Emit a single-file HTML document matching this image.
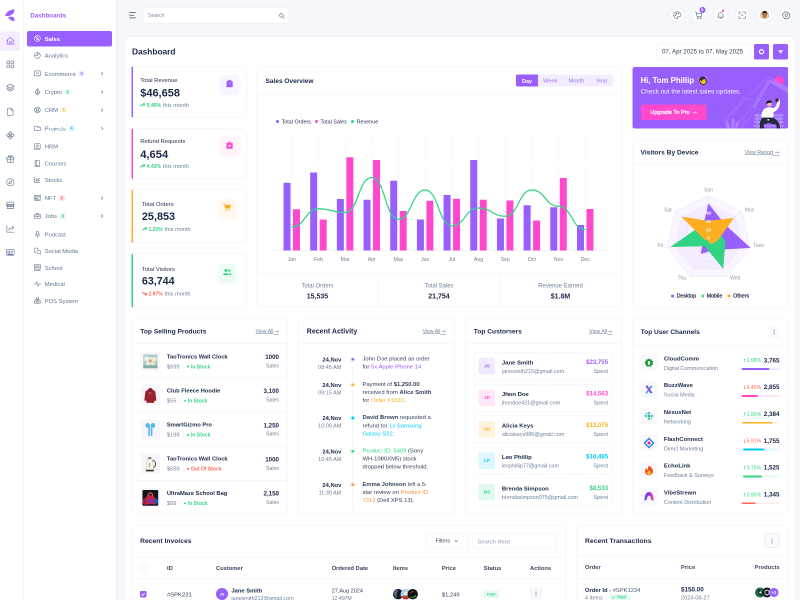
<!DOCTYPE html>
<html lang="en"><head><meta charset="utf-8"><title>Dashboard</title>
<style>
html,body{margin:0;padding:0;}
html{width:800px;height:600px;overflow:hidden;background:#f6f7fb;}
body{width:1600px;height:1200px;position:relative;overflow:hidden;transform:scale(.5) translateZ(0);transform-origin:0 0;will-change:transform;
font-family:"Liberation Sans",sans-serif;color:#1c2848;background:#f6f7fb;}
div,svg{box-sizing:border-box;}
b{font-weight:700;}
</style></head><body>
<div style="position:absolute;left:250px;top:74px;width:1340px;height:1200px;background:#fff;border-radius:10px 10px 0 0;box-shadow:0 0 2px rgba(120,130,160,.18);"></div>
<div style="position:absolute;left:0px;top:0px;width:47px;height:1200px;background:#fff;"></div>
<div style="position:absolute;left:46.5px;top:0px;width:1px;height:1200px;background:#e9edf4;"></div>
<svg style="position:absolute;left:9px;top:17px;" width="22" height="27" viewBox="0 0 11 13.5"><path d="M9.7 0.9 C5.6 1.2 1.4 3.6 0.7 7.3 C3.2 8.2 7.2 7 9 4.6 C9.8 3.5 10 2.2 9.7 0.9 Z" fill="#985ffd"/><path d="M3.6 8.9 C5.4 7.7 8.2 7.7 9.6 9.5 C10 10.6 10 11.8 9.7 12.8 C7.4 12.5 4.8 11.2 3.6 8.9 Z" fill="#985ffd"/></svg>
<div style="position:absolute;left:0px;top:62.6px;width:40px;height:39.2px;background:#f3edff;border-radius:5px;"></div>
<svg style="position:absolute;left:10.6px;top:72.4px;" width="19.2" height="19.2" viewBox="0 0 24 24"><g fill="none" stroke="#985ffd" stroke-width="1.6" stroke-linecap="round" stroke-linejoin="round"><path d="M2.5 12 L12 3.5 L21.5 12"/><path d="M5 10.5 V20.5 H19 V10.5"/><path d="M9.5 20.5 V14.5 H14.5 V20.5"/><path d="M3 20.6 H21"/></g></svg>
<svg style="position:absolute;left:10.6px;top:119.4px;" width="19.2" height="19.2" viewBox="0 0 24 24"><g fill="none" stroke="#6a7b96" stroke-width="1.6" stroke-linecap="round" stroke-linejoin="round"><rect x="3.5" y="3.5" width="7" height="7" rx="2"/><rect x="13.5" y="3.5" width="7" height="7" rx="2"/><rect x="3.5" y="13.5" width="7" height="7" rx="2"/><rect x="13.5" y="13.5" width="7" height="7" rx="2"/></g></svg>
<svg style="position:absolute;left:10.6px;top:166.4px;" width="19.2" height="19.2" viewBox="0 0 24 24"><g fill="none" stroke="#6a7b96" stroke-width="1.6" stroke-linecap="round" stroke-linejoin="round"><path d="M12 3 L21 8 L12 13 L3 8 Z"/><path d="M3 12 L12 17 L21 12"/><path d="M3 16 L12 21 L21 16"/></g></svg>
<svg style="position:absolute;left:10.6px;top:214.2px;" width="19.2" height="19.2" viewBox="0 0 24 24"><g fill="none" stroke="#6a7b96" stroke-width="1.6" stroke-linecap="round" stroke-linejoin="round"><path d="M6 3 H14 L19 8 V19 a2 2 0 0 1 -2 2 H7 a2 2 0 0 1 -2 -2 V5 a2 2 0 0 1 1 -2 Z"/><path d="M14 3 V8 H19"/></g></svg>
<svg style="position:absolute;left:10.6px;top:260.8px;" width="19.2" height="19.2" viewBox="0 0 24 24"><g fill="none" stroke="#6a7b96" stroke-width="1.6" stroke-linecap="round" stroke-linejoin="round"><path d="M12 2.5 L16 6.5 L12 10.5 L8 6.5 Z"/><path d="M12 13.5 L16 17.5 L12 21.5 L8 17.5 Z"/><path d="M6.5 8 L10.5 12 L6.5 16 L2.5 12 Z"/><path d="M17.5 8 L21.5 12 L17.5 16 L13.5 12 Z"/></g></svg>
<svg style="position:absolute;left:10.6px;top:307.6px;" width="19.2" height="19.2" viewBox="0 0 24 24"><g fill="none" stroke="#6a7b96" stroke-width="1.6" stroke-linecap="round" stroke-linejoin="round"><rect x="3" y="8" width="18" height="5"/><path d="M5 13 V21 H19 V13"/><path d="M12 8 V21"/><path d="M12 8 C9 8 7 6.5 7.5 4.5 C8 3 10.5 3 12 8 C13.5 3 16 3 16.5 4.5 C17 6.5 15 8 12 8"/></g></svg>
<svg style="position:absolute;left:10.6px;top:354.6px;" width="19.2" height="19.2" viewBox="0 0 24 24"><g fill="none" stroke="#6a7b96" stroke-width="1.6" stroke-linecap="round" stroke-linejoin="round"><circle cx="12" cy="12" r="9"/><path d="M15.8 8.2 L13.8 13.8 L8.2 15.8 L10.2 10.2 Z"/></g></svg>
<svg style="position:absolute;left:10.6px;top:401.4px;" width="19.2" height="19.2" viewBox="0 0 24 24"><g fill="none" stroke="#6a7b96" stroke-width="1.6" stroke-linecap="round" stroke-linejoin="round"><path d="M4 4 H20 L21.5 9.5 H2.5 Z"/><path d="M4 9.5 V20 H20 V9.5"/><path d="M4 15 H20"/><path d="M2.5 9.5 a3 3 0 0 0 6 0 a3 3 0 0 0 6.5 0 a3 3 0 0 0 6.5 0"/></g></svg>
<svg style="position:absolute;left:10.6px;top:448.4px;" width="19.2" height="19.2" viewBox="0 0 24 24"><g fill="none" stroke="#6a7b96" stroke-width="1.6" stroke-linecap="round" stroke-linejoin="round"><path d="M3.5 3.5 V20.5 H20.5"/><path d="M7 15 L11 10.5 L14.5 13.5 L20 7"/><path d="M16 7 H20 V11"/></g></svg>
<svg style="position:absolute;left:10.6px;top:495.2px;" width="19.2" height="19.2" viewBox="0 0 24 24"><g fill="none" stroke="#6a7b96" stroke-width="1.6" stroke-linecap="round" stroke-linejoin="round"><rect x="2.5" y="4.5" width="19" height="15" rx="1.5"/><path d="M6 9 H10 V14 H6 Z"/><path d="M13 9.5 H18"/><path d="M13 13.5 H18"/><path d="M6 16.8 H18"/></g></svg>
<div style="position:absolute;left:47.5px;top:0px;width:184.5px;height:1200px;background:#fff;"></div>
<div style="position:absolute;left:232px;top:0px;width:4.4px;height:1200px;background:linear-gradient(90deg,rgba(225,229,240,.55),rgba(225,229,240,0));"></div>
<div style="position:absolute;left:60.8px;top:23.15px;white-space:nowrap;font-size:12.39px;line-height:16.11px;color:#985ffd;font-weight:700;">Dashboards</div>
<div style="position:absolute;left:54px;top:62.4px;width:170px;height:30.2px;background:#985ffd;border-radius:4px;"></div>
<svg style="position:absolute;left:67px;top:69.4px;" width="15.6" height="15.6" viewBox="0 0 24 24"><g fill="none" stroke="#fff" stroke-width="1.75" stroke-linecap="round" stroke-linejoin="round"><circle cx="12" cy="12" r="9"/><path d="M5.5 5.5 L18.5 18.5"/><path d="M15 8.5 C13 6.8 9 7.4 9 10 C9 12.6 15 11.6 15 14.4 C15 16.8 11 17.2 9 15.5"/></g></svg>
<div style="position:absolute;left:89.4px;top:69.59px;white-space:nowrap;font-size:11.7px;line-height:15.21px;color:#fff;font-weight:700;">Sales</div>
<svg style="position:absolute;left:67px;top:103px;" width="15.6" height="15.6" viewBox="0 0 24 24"><g fill="none" stroke="#61748f" stroke-width="1.75" stroke-linecap="round" stroke-linejoin="round"><circle cx="12" cy="12" r="9"/><path d="M12 3 V12 H3"/><path d="M12 12 L18 6"/></g></svg>
<div style="position:absolute;left:89.4px;top:103.19px;white-space:nowrap;font-size:11.7px;line-height:15.21px;color:#61748f;font-weight:400;">Analytics</div>
<svg style="position:absolute;left:67px;top:139.4px;" width="15.6" height="15.6" viewBox="0 0 24 24"><g fill="none" stroke="#61748f" stroke-width="1.75" stroke-linecap="round" stroke-linejoin="round"><rect x="3" y="4.5" width="18" height="15" rx="1.5"/><path d="M8 9 C8 14 16 14 16 9"/></g></svg>
<div style="position:absolute;left:89.4px;top:139.59px;white-space:nowrap;font-size:11.7px;line-height:15.21px;color:#61748f;font-weight:400;">Ecommerce</div>
<div style="position:absolute;left:157.01px;top:141.2px;width:12.4px;height:11.8px;background:#f1eaff;border-radius:2.4px;"></div>
<div style="position:absolute;left:163.21px;top:141.74px;white-space:nowrap;font-size:8.4px;line-height:10.92px;color:#985ffd;font-weight:700;transform:translateX(-50%);">3</div>
<svg style="position:absolute;left:200.8px;top:143.2px;" width="6" height="8" viewBox="0 0 3 4"><path d="M0.8 0.6 L2.4 2 L0.8 3.4" fill="none" stroke="#61748f" stroke-width="0.55" stroke-linecap="round" stroke-linejoin="round"/></svg>
<svg style="position:absolute;left:67px;top:176.2px;" width="15.6" height="15.6" viewBox="0 0 24 24"><g fill="none" stroke="#61748f" stroke-width="1.75" stroke-linecap="round" stroke-linejoin="round"><path d="M12 2.5 L19.5 12.5 L12 16.5 L4.5 12.5 Z"/><path d="M5.5 16 L12 21.5 L18.5 16"/><path d="M12 2.5 V16.5"/></g></svg>
<div style="position:absolute;left:89.4px;top:176.4px;white-space:nowrap;font-size:11.7px;line-height:15.21px;color:#61748f;font-weight:400;">Crypto</div>
<div style="position:absolute;left:129.06px;top:178px;width:12.4px;height:11.8px;background:#e4f9ef;border-radius:2.4px;"></div>
<div style="position:absolute;left:135.26px;top:178.54px;white-space:nowrap;font-size:8.4px;line-height:10.92px;color:#32d484;font-weight:700;transform:translateX(-50%);">6</div>
<svg style="position:absolute;left:200.8px;top:180px;" width="6" height="8" viewBox="0 0 3 4"><path d="M0.8 0.6 L2.4 2 L0.8 3.4" fill="none" stroke="#61748f" stroke-width="0.55" stroke-linecap="round" stroke-linejoin="round"/></svg>
<svg style="position:absolute;left:67px;top:212.2px;" width="15.6" height="15.6" viewBox="0 0 24 24"><g fill="none" stroke="#61748f" stroke-width="1.75" stroke-linecap="round" stroke-linejoin="round"><circle cx="12" cy="12" r="9"/><circle cx="12" cy="12" r="3.6"/><path d="M5.6 5.6 L9.4 9.4 M14.6 14.6 L18.4 18.4 M18.4 5.6 L14.6 9.4 M9.4 14.6 L5.6 18.4"/></g></svg>
<div style="position:absolute;left:89.4px;top:212.4px;white-space:nowrap;font-size:11.7px;line-height:15.21px;color:#61748f;font-weight:400;">CRM</div>
<div style="position:absolute;left:121.24px;top:214px;width:12.4px;height:11.8px;background:#fff4df;border-radius:2.4px;"></div>
<div style="position:absolute;left:127.44px;top:214.54px;white-space:nowrap;font-size:8.4px;line-height:10.92px;color:#fdaf22;font-weight:700;transform:translateX(-50%);">5</div>
<svg style="position:absolute;left:200.8px;top:216px;" width="6" height="8" viewBox="0 0 3 4"><path d="M0.8 0.6 L2.4 2 L0.8 3.4" fill="none" stroke="#61748f" stroke-width="0.55" stroke-linecap="round" stroke-linejoin="round"/></svg>
<svg style="position:absolute;left:67px;top:249px;" width="15.6" height="15.6" viewBox="0 0 24 24"><g fill="none" stroke="#61748f" stroke-width="1.75" stroke-linecap="round" stroke-linejoin="round"><path d="M3 6.5 a1.5 1.5 0 0 1 1.5 -1.5 H9.5 L12 7.5 H19.5 a1.5 1.5 0 0 1 1.5 1.5 V17.5 a1.5 1.5 0 0 1 -1.5 1.5 H4.5 a1.5 1.5 0 0 1 -1.5 -1.5 Z"/></g></svg>
<div style="position:absolute;left:89.4px;top:249.2px;white-space:nowrap;font-size:11.7px;line-height:15.21px;color:#61748f;font-weight:400;">Projects</div>
<div style="position:absolute;left:136.86px;top:250.8px;width:12.4px;height:11.8px;background:#e0f8ff;border-radius:2.4px;"></div>
<div style="position:absolute;left:143.06px;top:251.34px;white-space:nowrap;font-size:8.4px;line-height:10.92px;color:#00c9ff;font-weight:700;transform:translateX(-50%);">4</div>
<svg style="position:absolute;left:200.8px;top:252.8px;" width="6" height="8" viewBox="0 0 3 4"><path d="M0.8 0.6 L2.4 2 L0.8 3.4" fill="none" stroke="#61748f" stroke-width="0.55" stroke-linecap="round" stroke-linejoin="round"/></svg>
<svg style="position:absolute;left:67px;top:285.2px;" width="15.6" height="15.6" viewBox="0 0 24 24"><g fill="none" stroke="#61748f" stroke-width="1.75" stroke-linecap="round" stroke-linejoin="round"><rect x="3.5" y="3.5" width="17" height="17" rx="1.5"/><circle cx="12" cy="10" r="3"/><path d="M6.5 20 C7 15.5 17 15.5 17.5 20"/></g></svg>
<div style="position:absolute;left:89.4px;top:285.39px;white-space:nowrap;font-size:11.7px;line-height:15.21px;color:#61748f;font-weight:400;">HRM</div>
<svg style="position:absolute;left:67px;top:318.6px;" width="15.6" height="15.6" viewBox="0 0 24 24"><g fill="none" stroke="#61748f" stroke-width="1.75" stroke-linecap="round" stroke-linejoin="round"><rect x="5" y="3" width="14" height="15.5" rx="1.5"/><path d="M5 18.5 V21 H19"/><path d="M8.5 3 V18"/></g></svg>
<div style="position:absolute;left:89.4px;top:318.79px;white-space:nowrap;font-size:11.7px;line-height:15.21px;color:#61748f;font-weight:400;">Courses</div>
<svg style="position:absolute;left:67px;top:352px;" width="15.6" height="15.6" viewBox="0 0 24 24"><g fill="none" stroke="#61748f" stroke-width="1.75" stroke-linecap="round" stroke-linejoin="round"><path d="M3.5 3.5 V20.5 H20.5"/><path d="M6.5 12 L10 8.5 L13.5 11.5 L19.5 6.5"/><path d="M7 16 L10 13.5 L13.5 16.5 L19 13"/></g></svg>
<div style="position:absolute;left:89.4px;top:352.19px;white-space:nowrap;font-size:11.7px;line-height:15.21px;color:#61748f;font-weight:400;">Stocks</div>
<svg style="position:absolute;left:67px;top:388.2px;" width="15.6" height="15.6" viewBox="0 0 24 24"><g fill="none" stroke="#61748f" stroke-width="1.75" stroke-linecap="round" stroke-linejoin="round"><rect x="2.5" y="4.5" width="19" height="15" rx="1.5"/><rect x="5.5" y="8" width="6" height="6"/><path d="M14.5 8.5 H18.5 M14.5 12 H18.5 M5.5 16.5 H18.5"/></g></svg>
<div style="position:absolute;left:89.4px;top:388.39px;white-space:nowrap;font-size:11.7px;line-height:15.21px;color:#61748f;font-weight:400;">NFT</div>
<div style="position:absolute;left:117.34px;top:390px;width:12.4px;height:11.8px;background:#ffe8e5;border-radius:2.4px;"></div>
<div style="position:absolute;left:123.54px;top:390.54px;white-space:nowrap;font-size:8.4px;line-height:10.92px;color:#ff6757;font-weight:700;transform:translateX(-50%);">6</div>
<svg style="position:absolute;left:200.8px;top:392px;" width="6" height="8" viewBox="0 0 3 4"><path d="M0.8 0.6 L2.4 2 L0.8 3.4" fill="none" stroke="#61748f" stroke-width="0.55" stroke-linecap="round" stroke-linejoin="round"/></svg>
<svg style="position:absolute;left:67px;top:424.2px;" width="15.6" height="15.6" viewBox="0 0 24 24"><g fill="none" stroke="#61748f" stroke-width="1.75" stroke-linecap="round" stroke-linejoin="round"><rect x="3" y="7" width="18" height="13" rx="1.5"/><path d="M8.5 7 V4.5 H15.5 V7"/><path d="M3 12.5 H21"/><path d="M10.5 12.5 V14.5 H13.5 V12.5"/></g></svg>
<div style="position:absolute;left:89.4px;top:424.39px;white-space:nowrap;font-size:11.7px;line-height:15.21px;color:#61748f;font-weight:400;">Jobs</div>
<div style="position:absolute;left:119.31px;top:426px;width:12.4px;height:11.8px;background:#e4f9ef;border-radius:2.4px;"></div>
<div style="position:absolute;left:125.51px;top:426.54px;white-space:nowrap;font-size:8.4px;line-height:10.92px;color:#32d484;font-weight:700;transform:translateX(-50%);">8</div>
<svg style="position:absolute;left:200.8px;top:428px;" width="6" height="8" viewBox="0 0 3 4"><path d="M0.8 0.6 L2.4 2 L0.8 3.4" fill="none" stroke="#61748f" stroke-width="0.55" stroke-linecap="round" stroke-linejoin="round"/></svg>
<svg style="position:absolute;left:67px;top:461px;" width="15.6" height="15.6" viewBox="0 0 24 24"><g fill="none" stroke="#61748f" stroke-width="1.75" stroke-linecap="round" stroke-linejoin="round"><rect x="9" y="2.5" width="6" height="11.5" rx="3"/><path d="M5.5 11 a6.5 6.5 0 0 0 13 0"/><path d="M12 17.5 V21.5"/></g></svg>
<div style="position:absolute;left:89.4px;top:461.19px;white-space:nowrap;font-size:11.7px;line-height:15.21px;color:#61748f;font-weight:400;">Podcast</div>
<svg style="position:absolute;left:67px;top:494.2px;" width="15.6" height="15.6" viewBox="0 0 24 24"><g fill="none" stroke="#61748f" stroke-width="1.75" stroke-linecap="round" stroke-linejoin="round"><path d="M14.5 9 A6 6 0 1 0 4.5 13.5 L3.5 16.5 L7 15.5"/><path d="M20.5 18.5 L21.3 21.3 L18.2 20.3 A5.5 5.5 0 1 1 20.5 18.5 Z"/></g></svg>
<div style="position:absolute;left:89.4px;top:494.39px;white-space:nowrap;font-size:11.7px;line-height:15.21px;color:#61748f;font-weight:400;">Social Media</div>
<svg style="position:absolute;left:67px;top:527.4px;" width="15.6" height="15.6" viewBox="0 0 24 24"><g fill="none" stroke="#61748f" stroke-width="1.75" stroke-linecap="round" stroke-linejoin="round"><rect x="3" y="4" width="18" height="13"/><path d="M2 4 H22"/><path d="M7 17 V21 M17 17 V21"/><rect x="7" y="8" width="10" height="5"/><path d="M2.5 21 H21.5"/></g></svg>
<div style="position:absolute;left:89.4px;top:527.6px;white-space:nowrap;font-size:11.7px;line-height:15.21px;color:#61748f;font-weight:400;">School</div>
<svg style="position:absolute;left:67px;top:560.2px;" width="15.6" height="15.6" viewBox="0 0 24 24"><g fill="none" stroke="#61748f" stroke-width="1.75" stroke-linecap="round" stroke-linejoin="round"><path d="M2 12.5 H7 L10 5.5 L14 19 L17 12.5 H22"/></g></svg>
<div style="position:absolute;left:89.4px;top:560.39px;white-space:nowrap;font-size:11.7px;line-height:15.21px;color:#61748f;font-weight:400;">Medical</div>
<svg style="position:absolute;left:67px;top:593.4px;" width="15.6" height="15.6" viewBox="0 0 24 24"><g fill="none" stroke="#61748f" stroke-width="1.75" stroke-linecap="round" stroke-linejoin="round"><path d="M4 10.5 H20 L21 20.5 H3 Z"/><rect x="8" y="3.5" width="8" height="4.5"/><path d="M12 8 V10.5"/><path d="M7.5 14 H9.5 M11 14 H13 M14.5 14 H16.5 M7.5 17 H9.5 M11 17 H13 M14.5 17 H16.5"/></g></svg>
<div style="position:absolute;left:89.4px;top:593.6px;white-space:nowrap;font-size:11.7px;line-height:15.21px;color:#61748f;font-weight:400;">POS System</div>
<svg style="position:absolute;left:258px;top:23.2px;" width="15" height="15" viewBox="0 0 7.5 7.5"><g stroke="#45526a" stroke-width="0.75" stroke-linecap="round"><path d="M0.6 1 H6.6"/><path d="M0.6 3.7 H4.8"/><path d="M0.6 6.4 H6.6"/></g></svg>
<div style="position:absolute;left:285.6px;top:15.4px;width:292.8px;height:31.6px;background:#fff;border:1.0px solid #e9edf4;border-radius:5px;"></div>
<div style="position:absolute;left:296px;top:24.44px;white-space:nowrap;font-size:10.4px;line-height:13.52px;color:#7d8da6;font-weight:400;">Search</div>
<svg style="position:absolute;left:558.4px;top:25.8px;" width="11.2" height="11.2" viewBox="0 0 6.5 6.5"><g fill="none" stroke="#66758e" stroke-width="0.8" stroke-linecap="round"><circle cx="2.8" cy="2.8" r="2.1"/><path d="M4.4 4.4 L6 6"/></g></svg>
<div style="position:absolute;left:1338.8px;top:14.8px;width:30.4px;height:30.4px;background:#fff;border:1.0px solid #e4e8f1;border-radius:50%;"></div>
<div style="position:absolute;left:1382.8px;top:14.8px;width:30.4px;height:30.4px;background:#fff;border:1.0px solid #e4e8f1;border-radius:50%;"></div>
<div style="position:absolute;left:1426.8px;top:14.8px;width:30.4px;height:30.4px;background:#fff;border:1.0px solid #e4e8f1;border-radius:50%;"></div>
<div style="position:absolute;left:1469.6px;top:14.8px;width:30.4px;height:30.4px;background:#fff;border:1.0px solid #e4e8f1;border-radius:50%;"></div>
<div style="position:absolute;left:1513.6px;top:14.8px;width:30.4px;height:30.4px;background:#fff;border:1.0px solid #e4e8f1;border-radius:50%;"></div>
<div style="position:absolute;left:1557.6px;top:14.8px;width:30.4px;height:30.4px;background:#fff;border:1.0px solid #e4e8f1;border-radius:50%;"></div>
<svg style="position:absolute;left:1344.6px;top:20.6px;" width="18.8" height="18.8" viewBox="0 0 24 24"><g fill="none" stroke="#5d6c89" stroke-width="1.6" stroke-linecap="round" stroke-linejoin="round"><path d="M12 3 a9 9 0 1 0 0 18 c1.8 0 2.2 -1.2 1.4 -2.4 c-1 -1.6 0 -3.1 1.8 -3.1 H18 a3.5 3.5 0 0 0 3.5 -3.5 C21.5 7 17.3 3 12 3 Z"/><circle cx="7.5" cy="12" r="1"/><circle cx="10" cy="7.8" r="1"/><circle cx="15" cy="7.8" r="1"/></g></svg>
<svg style="position:absolute;left:1387.6px;top:20.6px;" width="18.8" height="18.8" viewBox="0 0 24 24"><g fill="none" stroke="#5d6c89" stroke-width="1.6" stroke-linecap="round" stroke-linejoin="round"><path d="M2.5 4 H5.5 L8 15.5 H18.5 L20.5 7.5 H6.5"/><circle cx="9.5" cy="19.5" r="1.4"/><circle cx="17" cy="19.5" r="1.4"/></g></svg>
<svg style="position:absolute;left:1432px;top:20.6px;" width="18.8" height="18.8" viewBox="0 0 24 24"><g fill="none" stroke="#5d6c89" stroke-width="1.6" stroke-linecap="round" stroke-linejoin="round"><path d="M6 17 V11 a6 6 0 0 1 12 0 V17 Z"/><path d="M4 17 H20"/><path d="M10 20.5 H14"/></g></svg>
<svg style="position:absolute;left:1475.4px;top:20.6px;" width="18.8" height="18.8" viewBox="0 0 24 24"><g fill="none" stroke="#5d6c89" stroke-width="1.6" stroke-linecap="round" stroke-linejoin="round"><path d="M4 9 V4 H9 M15 4 H20 V9 M20 15 V20 H15 M9 20 H4 V15"/><rect x="9" y="9" width="6" height="6" fill="#4d5b73" stroke="none" opacity=".35"/></g></svg>
<svg style="position:absolute;left:1563.4px;top:20.6px;" width="18.8" height="18.8" viewBox="0 0 24 24"><g fill="none" stroke="#5d6c89" stroke-width="1.6" stroke-linecap="round" stroke-linejoin="round"><circle cx="12" cy="12" r="3.2"/><path d="M12 2.8 L14 5 L17 4.2 L17.8 7.2 L20.8 8 L20 11 L22 12.5 L20 14.5 L20.6 17.4 L17.6 18 L16.6 21 L13.7 20 L12 21.8 L10 20 L7.2 20.8 L6.3 18 L3.4 17.2 L4.1 14.3 L2 12.2 L4 10.2 L3.3 7.3 L6.2 6.5 L7 3.6 L10 4.5 Z"/></g></svg>
<svg style="position:absolute;left:1519.6px;top:20.8px;" width="18.4" height="18.4" viewBox="0 0 24 24"><defs><clipPath id="avc"><circle cx="12" cy="12" r="12"/></clipPath></defs><g clip-path="url(#avc)"><rect width="24" height="24" fill="#dcc3a6"/><path d="M1 27 C1 20 6 18.6 12 18.6 C18 18.6 23 20 23 27 Z" fill="#efe9e0"/><rect x="8.8" y="13" width="6.4" height="7.4" fill="#a8693f"/><ellipse cx="12" cy="10.8" rx="6" ry="7.2" fill="#b5744a"/><path d="M5.6 9.8 C4.8 3 9.6 1 13 1.4 C17.6 1.8 19.6 5.2 18.4 10.4 C17.4 7.4 15.4 6.2 12.2 6.3 C9 6.4 7 7.4 5.6 9.8 Z" fill="#2a1a13"/></g></svg>
<div style="position:absolute;left:1398.6px;top:14.2px;width:12px;height:12px;background:#985ffd;border-radius:50%;"></div>
<div style="position:absolute;left:1404.7px;top:15.36px;white-space:nowrap;font-size:7.6px;line-height:9.88px;color:#fff;font-weight:700;transform:translateX(-50%);">5</div>
<div style="position:absolute;left:1443.8px;top:19.4px;width:4.6px;height:4.6px;background:#ff49cd;border-radius:50%;"></div>
<div style="position:absolute;left:264px;top:93.17px;white-space:nowrap;font-size:16.66px;line-height:21.65px;color:#1c2848;font-weight:700;">Dashboard</div>
<div style="position:absolute;left:1313.2px;top:87.2px;width:188px;height:32px;background:#fff;border:1.0px solid #e9edf4;border-radius:4px;"></div>
<div style="position:absolute;left:1324px;top:95.37px;white-space:nowrap;font-size:12.35px;line-height:16.05px;color:#36445a;font-weight:400;">07, Apr 2025 to 07, May 2025</div>
<div style="position:absolute;left:1508px;top:88px;width:30.4px;height:30.8px;background:#985ffd;border-radius:3.2px;"></div>
<div style="position:absolute;left:1546px;top:88px;width:30.4px;height:30.8px;background:#985ffd;border-radius:3.2px;"></div>
<svg style="position:absolute;left:1517.2px;top:97.4px;" width="12" height="12" viewBox="0 0 6 6"><path d="M3 0.9 L4.6 2 A2 2 0 1 1 1.4 2 Z" fill="none" stroke="#fff" stroke-width="1.1" stroke-linejoin="round"/></svg>
<svg style="position:absolute;left:1554.8px;top:98.6px;" width="12.8" height="10" viewBox="0 0 6.4 5"><path d="M0.6 0.8 H5.8 L3.2 4.2 Z" fill="#fff" opacity=".85"/></svg>
<div style="position:absolute;left:263.2px;top:133px;width:229.6px;height:102px;background:#fff;border:1.0px solid #edf1f7;border-radius:5px;box-sizing:border-box;"></div>
<div style="position:absolute;left:263.2px;top:133px;width:3.2px;height:102px;background:#985ffd;border-radius:4px 0 0 4px;"></div>
<div style="position:absolute;left:280.4px;top:152.42px;white-space:nowrap;font-size:11.66px;line-height:15.16px;color:#27324f;font-weight:400;">Total Revenue</div>
<div style="position:absolute;left:280.4px;top:171.68px;white-space:nowrap;font-size:22.02px;line-height:28.63px;color:#1c2848;font-weight:700;">$46,658</div>
<svg style="position:absolute;left:280.4px;top:205.6px;" width="10" height="8" viewBox="0 0 5 4"><path d="M0.4 3.2 L2 1.6 L2.8 2.4 L4.2 1" fill="none" stroke="#32d484" stroke-width="0.95" stroke-linejoin="round" stroke-linecap="round"/><path d="M3.1 0.7 H4.5 V2.1" fill="none" stroke="#32d484" stroke-width="0.95" stroke-linecap="round"/></svg>
<div style="position:absolute;left:293.6px;top:203.5px;white-space:nowrap;font-size:10px;line-height:13px;color:#32d484;font-weight:700;">0.45%</div>
<div style="position:absolute;left:325.95px;top:202.67px;white-space:nowrap;font-size:11.27px;line-height:14.65px;color:#72809a;font-weight:400;">this month</div>
<div style="position:absolute;left:442px;top:150.4px;width:33.6px;height:33.6px;background:#f8f4ff;border-radius:4px;box-shadow:0 4px 8px rgba(152,95,253,.13);"></div>
<svg style="position:absolute;left:448.6px;top:156.8px;" width="20.4" height="20.4" viewBox="0 0 14 14"><path d="M7 1.7 L11 4.3 V11.7 H3 V4.3 Z" fill="#985ffd" stroke="#985ffd" stroke-width="0.5" stroke-linejoin="round"/><path d="M5.4 5.4 a1.6 1.6 0 0 0 3.2 0" fill="none" stroke="#fff" stroke-width="0.55" opacity=".55"/></svg>
<div style="position:absolute;left:263.2px;top:256.5px;width:229.6px;height:101px;background:#fff;border:1.0px solid #edf1f7;border-radius:5px;box-sizing:border-box;"></div>
<div style="position:absolute;left:263.2px;top:256.5px;width:3.2px;height:101px;background:#ff49cd;border-radius:4px 0 0 4px;"></div>
<div style="position:absolute;left:280.4px;top:274.22px;white-space:nowrap;font-size:11.66px;line-height:15.16px;color:#27324f;font-weight:400;">Refund Requests</div>
<div style="position:absolute;left:280.4px;top:293.85px;white-space:nowrap;font-size:22.38px;line-height:29.09px;color:#1c2848;font-weight:700;">4,654</div>
<svg style="position:absolute;left:280.4px;top:328px;" width="10" height="8" viewBox="0 0 5 4"><path d="M0.4 3.2 L2 1.6 L2.8 2.4 L4.2 1" fill="none" stroke="#32d484" stroke-width="0.95" stroke-linejoin="round" stroke-linecap="round"/><path d="M3.1 0.7 H4.5 V2.1" fill="none" stroke="#32d484" stroke-width="0.95" stroke-linecap="round"/></svg>
<div style="position:absolute;left:293.6px;top:325.9px;white-space:nowrap;font-size:10px;line-height:13px;color:#32d484;font-weight:700;">4.43%</div>
<div style="position:absolute;left:325.95px;top:325.07px;white-space:nowrap;font-size:11.27px;line-height:14.65px;color:#72809a;font-weight:400;">this month</div>
<div style="position:absolute;left:442px;top:273.2px;width:33.6px;height:33.6px;background:#fff3fc;border-radius:4px;box-shadow:0 4px 8px rgba(255,73,205,.13);"></div>
<svg style="position:absolute;left:448.6px;top:279.6px;" width="20.4" height="20.4" viewBox="0 0 14 14"><rect x="2.7" y="3.7" width="8.6" height="8.4" rx="0.7" fill="#ff49cd"/><path d="M5.6 3.8 V2.7 H8.4 V3.8" fill="none" stroke="#ff49cd" stroke-width="0.9"/><path d="M5.9 6 L9.2 7.9 L5.9 9.8 Z" fill="#fff"/></svg>
<div style="position:absolute;left:263.2px;top:378.6px;width:229.6px;height:107px;background:#fff;border:1.0px solid #edf1f7;border-radius:5px;box-sizing:border-box;"></div>
<div style="position:absolute;left:263.2px;top:378.6px;width:3.2px;height:107px;background:#fdaf22;border-radius:4px 0 0 4px;"></div>
<div style="position:absolute;left:283.8px;top:400.02px;white-space:nowrap;font-size:11.66px;line-height:15.16px;color:#27324f;font-weight:400;">Total Orders</div>
<div style="position:absolute;left:283.8px;top:419.29px;white-space:nowrap;font-size:21.71px;line-height:28.23px;color:#1c2848;font-weight:700;">25,853</div>
<svg style="position:absolute;left:283.8px;top:454px;" width="10" height="8" viewBox="0 0 5 4"><path d="M0.4 3.2 L2 1.6 L2.8 2.4 L4.2 1" fill="none" stroke="#32d484" stroke-width="0.95" stroke-linejoin="round" stroke-linecap="round"/><path d="M3.1 0.7 H4.5 V2.1" fill="none" stroke="#32d484" stroke-width="0.95" stroke-linecap="round"/></svg>
<div style="position:absolute;left:297px;top:451.9px;white-space:nowrap;font-size:10px;line-height:13px;color:#32d484;font-weight:700;">1.25%</div>
<div style="position:absolute;left:329.35px;top:451.07px;white-space:nowrap;font-size:11.27px;line-height:14.65px;color:#72809a;font-weight:400;">this month</div>
<div style="position:absolute;left:437.6px;top:398px;width:33.6px;height:33.6px;background:#fff8ec;border-radius:4px;box-shadow:0 4px 8px rgba(253,175,34,.13);"></div>
<svg style="position:absolute;left:444.2px;top:404.4px;" width="20.4" height="20.4" viewBox="0 0 14 14"><path d="M1.6 2.6 H3.4 L5 8.6 H10.6 L12 4.2 H4" fill="#fdaf22" stroke="#fdaf22" stroke-width="0.9" stroke-linejoin="round"/><circle cx="5.6" cy="11" r="1.1" fill="#fdaf22"/><circle cx="10" cy="11" r="1.1" fill="#fdaf22"/></svg>
<div style="position:absolute;left:263.2px;top:507.4px;width:229.6px;height:108px;background:#fff;border:1.0px solid #edf1f7;border-radius:5px;box-sizing:border-box;"></div>
<div style="position:absolute;left:263.2px;top:507.4px;width:3.2px;height:108px;background:#32d484;border-radius:4px 0 0 4px;"></div>
<div style="position:absolute;left:283.8px;top:529.62px;white-space:nowrap;font-size:11.66px;line-height:15.16px;color:#27324f;font-weight:400;">Total Visitors</div>
<div style="position:absolute;left:283.8px;top:549.14px;white-space:nowrap;font-size:21.32px;line-height:27.71px;color:#1c2848;font-weight:700;">63,744</div>
<svg style="position:absolute;left:283.8px;top:583.2px;" width="10" height="8" viewBox="0 0 5 4"><path d="M0.4 0.8 L2 2.4 L2.8 1.6 L4.2 3" fill="none" stroke="#ff6757" stroke-width="0.95" stroke-linejoin="round" stroke-linecap="round"/><path d="M3.1 3.3 H4.5 V1.9" fill="none" stroke="#ff6757" stroke-width="0.95" stroke-linecap="round"/></svg>
<div style="position:absolute;left:297px;top:581.1px;white-space:nowrap;font-size:10px;line-height:13px;color:#ff6757;font-weight:700;">2.97%</div>
<div style="position:absolute;left:329.35px;top:580.27px;white-space:nowrap;font-size:11.27px;line-height:14.65px;color:#72809a;font-weight:400;">this month</div>
<div style="position:absolute;left:437.6px;top:528px;width:33.6px;height:33.6px;background:#eefbf4;border-radius:4px;box-shadow:0 4px 8px rgba(50,212,132,.13);"></div>
<svg style="position:absolute;left:444.2px;top:534.4px;" width="20.4" height="20.4" viewBox="0 0 14 14"><circle cx="5.4" cy="4.6" r="2" fill="#32d484"/><path d="M1.6 11 C1.6 7.6 9.2 7.6 9.2 11 Z" fill="#32d484"/><circle cx="10" cy="5" r="1.6" fill="#32d484"/><path d="M9.6 8 C12 7.8 12.8 9.4 12.8 11 H10.4 C10.4 9.8 10.2 8.8 9.6 8 Z" fill="#32d484"/></svg>
<div style="position:absolute;left:513.4px;top:133.2px;width:730px;height:480.4px;background:#fff;border:1.0px solid #edf1f7;border-radius:5px;box-sizing:border-box;"></div>
<div style="position:absolute;left:531px;top:152.5px;white-space:nowrap;font-size:13.08px;line-height:17.01px;color:#1c2848;font-weight:700;">Sales Overview</div>
<div style="position:absolute;left:513.4px;top:188.1px;width:730px;height:1px;background:#edf1f7;"></div>
<div style="position:absolute;left:1032.4px;top:149.2px;width:193.8px;height:24.2px;background:#f3edff;border-radius:3.2px;"></div>
<div style="position:absolute;left:1032.4px;top:149.2px;width:43.2px;height:24.2px;background:#985ffd;border-radius:3.2px 0 0 3.2px;"></div>
<div style="position:absolute;left:1054px;top:154.58px;white-space:nowrap;font-size:10.8px;line-height:14.04px;color:#fff;font-weight:700;transform:translateX(-50%);">Day</div>
<div style="position:absolute;left:1100.4px;top:154.19px;white-space:nowrap;font-size:11.4px;line-height:14.82px;color:#9d74f7;font-weight:400;transform:translateX(-50%);">Week</div>
<div style="position:absolute;left:1152.8px;top:154.19px;white-space:nowrap;font-size:11.4px;line-height:14.82px;color:#9d74f7;font-weight:400;transform:translateX(-50%);">Month</div>
<div style="position:absolute;left:1203.2px;top:154.19px;white-space:nowrap;font-size:11.4px;line-height:14.82px;color:#9d74f7;font-weight:400;transform:translateX(-50%);">Year</div>
<div style="position:absolute;left:1124.5px;top:149.2px;width:1px;height:24.2px;background:#e8dcff;"></div>
<div style="position:absolute;left:1180.1px;top:149.2px;width:1px;height:24.2px;background:#e8dcff;"></div>
<div style="position:absolute;left:552px;top:239.8px;width:6.4px;height:6.4px;background:#985ffd;border-radius:50%;"></div>
<div style="position:absolute;left:563.2px;top:236.18px;white-space:nowrap;font-size:10.8px;line-height:14.04px;color:#27324f;font-weight:400;">Total Orders</div>
<div style="position:absolute;left:629.6px;top:239.8px;width:6.4px;height:6.4px;background:#ff49cd;border-radius:50%;"></div>
<div style="position:absolute;left:640.8px;top:236.18px;white-space:nowrap;font-size:10.8px;line-height:14.04px;color:#27324f;font-weight:400;">Total Sales</div>
<div style="position:absolute;left:702px;top:239.8px;width:6.4px;height:6.4px;background:#32d484;border-radius:50%;"></div>
<div style="position:absolute;left:713.2px;top:236.18px;white-space:nowrap;font-size:10.8px;line-height:14.04px;color:#27324f;font-weight:400;">Revenue</div>
<svg style="position:absolute;left:0;top:0" width="1600" height="1200" viewBox="0 0 800 600"><path d="M270.5 137.50 H607" stroke="#fbfbfd" stroke-width="0.5"/><path d="M270.5 156.33 H607" stroke="#fbfbfd" stroke-width="0.5"/><path d="M270.5 175.17 H607" stroke="#fbfbfd" stroke-width="0.5"/><path d="M270.5 194.00 H607" stroke="#fbfbfd" stroke-width="0.5"/><path d="M270.5 212.83 H607" stroke="#fbfbfd" stroke-width="0.5"/><path d="M270.5 231.67 H607" stroke="#fbfbfd" stroke-width="0.5"/><path d="M270.5 250.50 H607" stroke="#e4e8f0" stroke-width="0.5"/><path d="M291.75 137.5 V250.5" stroke="#e6e9f0" stroke-width="0.5" stroke-dasharray="0.9 0.9"/><path d="M318.43 137.5 V250.5" stroke="#e6e9f0" stroke-width="0.5" stroke-dasharray="0.9 0.9"/><path d="M345.11 137.5 V250.5" stroke="#e6e9f0" stroke-width="0.5" stroke-dasharray="0.9 0.9"/><path d="M371.79 137.5 V250.5" stroke="#e6e9f0" stroke-width="0.5" stroke-dasharray="0.9 0.9"/><path d="M398.47 137.5 V250.5" stroke="#e6e9f0" stroke-width="0.5" stroke-dasharray="0.9 0.9"/><path d="M425.15 137.5 V250.5" stroke="#e6e9f0" stroke-width="0.5" stroke-dasharray="0.9 0.9"/><path d="M451.83 137.5 V250.5" stroke="#e6e9f0" stroke-width="0.5" stroke-dasharray="0.9 0.9"/><path d="M478.51 137.5 V250.5" stroke="#e6e9f0" stroke-width="0.5" stroke-dasharray="0.9 0.9"/><path d="M505.19 137.5 V250.5" stroke="#e6e9f0" stroke-width="0.5" stroke-dasharray="0.9 0.9"/><path d="M531.87 137.5 V250.5" stroke="#e6e9f0" stroke-width="0.5" stroke-dasharray="0.9 0.9"/><path d="M558.55 137.5 V250.5" stroke="#e6e9f0" stroke-width="0.5" stroke-dasharray="0.9 0.9"/><path d="M585.23 137.5 V250.5" stroke="#e6e9f0" stroke-width="0.5" stroke-dasharray="0.9 0.9"/><rect x="283.50" y="182.75" width="7.0" height="67.75" fill="#985ffd"/><rect x="293.00" y="209.25" width="7.0" height="41.25" fill="#ff49cd"/><rect x="310.18" y="172.50" width="7.0" height="78.00" fill="#985ffd"/><rect x="319.68" y="219.50" width="7.0" height="31.00" fill="#ff49cd"/><rect x="336.86" y="199.00" width="7.0" height="51.50" fill="#985ffd"/><rect x="346.36" y="157.25" width="7.0" height="93.25" fill="#ff49cd"/><rect x="363.54" y="199.75" width="7.0" height="50.75" fill="#985ffd"/><rect x="373.04" y="160.00" width="7.0" height="90.50" fill="#ff49cd"/><rect x="390.22" y="180.75" width="7.0" height="69.75" fill="#985ffd"/><rect x="399.72" y="211.00" width="7.0" height="39.50" fill="#ff49cd"/><rect x="416.90" y="219.50" width="7.0" height="31.00" fill="#985ffd"/><rect x="426.40" y="200.75" width="7.0" height="49.75" fill="#ff49cd"/><rect x="443.58" y="195.00" width="7.0" height="55.50" fill="#985ffd"/><rect x="453.08" y="198.75" width="7.0" height="51.75" fill="#ff49cd"/><rect x="470.26" y="160.00" width="7.0" height="90.50" fill="#985ffd"/><rect x="479.76" y="199.75" width="7.0" height="50.75" fill="#ff49cd"/><rect x="496.94" y="218.50" width="7.0" height="32.00" fill="#985ffd"/><rect x="506.44" y="200.50" width="7.0" height="50.00" fill="#ff49cd"/><rect x="523.62" y="205.25" width="7.0" height="45.25" fill="#985ffd"/><rect x="533.12" y="220.50" width="7.0" height="30.00" fill="#ff49cd"/><rect x="550.30" y="207.25" width="7.0" height="43.25" fill="#985ffd"/><rect x="559.80" y="178.00" width="7.0" height="72.50" fill="#ff49cd"/><rect x="576.98" y="225.00" width="7.0" height="25.50" fill="#985ffd"/><rect x="586.48" y="209.00" width="7.0" height="41.50" fill="#ff49cd"/><path d="M291.75 227.00 C305.09 227.00 305.09 208.75 318.43 208.75 C331.77 208.75 331.77 212.50 345.11 212.50 C358.45 212.50 358.45 177.50 371.79 177.50 C385.13 177.50 385.13 219.25 398.47 219.25 C411.81 219.25 411.81 190.00 425.15 190.00 C438.49 190.00 438.49 225.75 451.83 225.75 C465.17 225.75 465.17 208.00 478.51 208.00 C491.85 208.00 491.85 216.25 505.19 216.25 C518.53 216.25 518.53 190.00 531.87 190.00 C545.21 190.00 545.21 206.25 558.55 206.25 C571.89 206.25 571.89 229.50 585.23 229.50" fill="none" stroke="#32d484" stroke-width="1.25" stroke-linecap="round"/></svg>
<div style="position:absolute;left:583.5px;top:511.64px;white-space:nowrap;font-size:10.4px;line-height:13.52px;color:#6f7c91;font-weight:400;transform:translateX(-50%);">Jan</div>
<div style="position:absolute;left:636.86px;top:511.64px;white-space:nowrap;font-size:10.4px;line-height:13.52px;color:#6f7c91;font-weight:400;transform:translateX(-50%);">Feb</div>
<div style="position:absolute;left:690.22px;top:511.64px;white-space:nowrap;font-size:10.4px;line-height:13.52px;color:#6f7c91;font-weight:400;transform:translateX(-50%);">Mar</div>
<div style="position:absolute;left:743.58px;top:511.64px;white-space:nowrap;font-size:10.4px;line-height:13.52px;color:#6f7c91;font-weight:400;transform:translateX(-50%);">Apr</div>
<div style="position:absolute;left:796.94px;top:511.64px;white-space:nowrap;font-size:10.4px;line-height:13.52px;color:#6f7c91;font-weight:400;transform:translateX(-50%);">May</div>
<div style="position:absolute;left:850.3px;top:511.64px;white-space:nowrap;font-size:10.4px;line-height:13.52px;color:#6f7c91;font-weight:400;transform:translateX(-50%);">Jun</div>
<div style="position:absolute;left:903.66px;top:511.64px;white-space:nowrap;font-size:10.4px;line-height:13.52px;color:#6f7c91;font-weight:400;transform:translateX(-50%);">Jul</div>
<div style="position:absolute;left:957.02px;top:511.64px;white-space:nowrap;font-size:10.4px;line-height:13.52px;color:#6f7c91;font-weight:400;transform:translateX(-50%);">Aug</div>
<div style="position:absolute;left:1010.38px;top:511.64px;white-space:nowrap;font-size:10.4px;line-height:13.52px;color:#6f7c91;font-weight:400;transform:translateX(-50%);">Sep</div>
<div style="position:absolute;left:1063.74px;top:511.64px;white-space:nowrap;font-size:10.4px;line-height:13.52px;color:#6f7c91;font-weight:400;transform:translateX(-50%);">Oct</div>
<div style="position:absolute;left:1117.1px;top:511.64px;white-space:nowrap;font-size:10.4px;line-height:13.52px;color:#6f7c91;font-weight:400;transform:translateX(-50%);">Nov</div>
<div style="position:absolute;left:1170.46px;top:511.64px;white-space:nowrap;font-size:10.4px;line-height:13.52px;color:#6f7c91;font-weight:400;transform:translateX(-50%);">Dec</div>
<div style="position:absolute;left:513.4px;top:546.5px;width:730px;height:1px;background:#edf1f7;"></div>
<div style="position:absolute;left:756.3px;top:547px;width:1px;height:66.6px;background:#edf1f7;"></div>
<div style="position:absolute;left:998.7px;top:547px;width:1px;height:66.6px;background:#edf1f7;"></div>
<div style="position:absolute;left:635px;top:563.88px;white-space:nowrap;font-size:11.87px;line-height:15.43px;color:#72809a;font-weight:400;transform:translateX(-50%);">Total Orders</div>
<div style="position:absolute;left:635px;top:582.5px;white-space:nowrap;font-size:14px;line-height:18.2px;color:#1c2848;font-weight:700;transform:translateX(-50%);">15,535</div>
<div style="position:absolute;left:878px;top:563.88px;white-space:nowrap;font-size:11.87px;line-height:15.43px;color:#72809a;font-weight:400;transform:translateX(-50%);">Total Sales</div>
<div style="position:absolute;left:878px;top:582.5px;white-space:nowrap;font-size:14px;line-height:18.2px;color:#1c2848;font-weight:700;transform:translateX(-50%);">21,754</div>
<div style="position:absolute;left:1121px;top:563.88px;white-space:nowrap;font-size:11.87px;line-height:15.43px;color:#72809a;font-weight:400;transform:translateX(-50%);">Revenue Earned</div>
<div style="position:absolute;left:1121px;top:582.5px;white-space:nowrap;font-size:14px;line-height:18.2px;color:#1c2848;font-weight:700;transform:translateX(-50%);">$1.8M</div>
<svg style="position:absolute;left:1264.6px;top:134px" width="311.6" height="123" viewBox="0 0 155.8 61.5"><defs><clipPath id="bnc"><rect x="0" y="0" width="155.8" height="61.5" rx="2.2"/></clipPath></defs><rect x="0" y="0" width="155.8" height="61.5" rx="2.2" fill="#985ffd"/><g clip-path="url(#bnc)"><g fill="#8a63ee" opacity=".55"><path d="M3 21 l4.4 -1.8 l-1.6 3.8 z"/><path d="M13 40 l7 -2.4 l-2.4 4.6 z"/><path d="M29 33 l3.4 -2.2 l0.2 3.4 z"/><path d="M1 29 l5.4 1 l-3.2 2.2 z"/><path d="M40 8 l3 1 l-2 2 z"/></g><circle cx="146.5" cy="13.9" r="4.8" fill="#ff49cd"/><path d="M121.2 40.6 L135.4 16 Q136.8 13.6 139.2 14.8 L156.4 23.6" fill="none" stroke="#ab84ff" stroke-width="3.5" stroke-linejoin="round" opacity=".6"/><g fill="none" stroke="#b594ff" stroke-width="0.45" opacity=".85"><path d="M92.7 52.4 L132.6 12.4 Q135.4 9.2 138.8 11 L156 21"/><path d="M119.6 39.4 L104.6 59.5"/><path d="M122.8 41.6 L108.6 61.5"/><path d="M92.7 52.4 L109.8 31.8 Q111 30.4 112.8 30.9 L121 33.2"/><path d="M94.8 53.8 L111.6 33.6"/></g><g fill="#b18cff" opacity=".85"><path d="M97.6 61.5 C96.4 56.4 94.6 53.4 92.6 51.6 C93.2 55.6 94.6 59.2 95.6 61.5 Z"/><path d="M99.4 61.5 C98.6 56 99.6 52.4 101.2 50.4 C102.4 54.2 102 58.2 101.4 61.5 Z"/><path d="M102.6 61.5 C103 57.2 104.4 54.4 106 53 C106 56.6 105.2 59.6 104.4 61.5 Z"/><path d="M96.4 61.5 C95.6 59 94 57.4 92.4 56.8 C93 58.8 94 60.4 94.8 61.5 Z"/></g><path d="M138 12.6 L156.4 21.4 V26.4 L140.4 17.6 Z" fill="#ab84ff" opacity=".6"/><g fill="#b692ff" opacity=".95"><rect x="122" y="47.2" width="28.8" height="2.2" rx=".4"/><rect x="122" y="50.6" width="28.8" height="2.2" rx=".4"/><rect x="122" y="54" width="28.8" height="2.2" rx=".4"/><rect x="124.4" y="46.4" width="1.2" height="15.1"/><rect x="147.2" y="46.4" width="1.2" height="15.1"/><rect x="121" y="58.2" width="30.8" height="1.4"/></g><g><path d="M128.9 50.4 C129 46 129.8 43.6 131.2 42.4 C132.8 41 134.4 40.4 135.8 40.2 C137.6 40 139.4 40.8 140.8 41.2 C142.6 40.4 144 38.4 144.8 36 L145.4 33.6 L147.6 34 C147.4 37.6 146.4 41 144.4 43 C143.2 44.2 141.8 44.8 141 45.2 L140.8 50.9 Z" fill="#fff"/><circle cx="136.9" cy="36.9" r="2.5" fill="#f7b9a4"/><path d="M133.9 37.2 C133.2 34.2 135.4 33 137.4 33.4 C139.2 33.7 140 35 139.4 36 C138 35.4 135.6 35.6 133.9 37.2 Z" fill="#1b1f2e"/><rect x="143" y="31.6" width="3" height="3.2" rx="0.4" fill="#272b3b"/><circle cx="146.6" cy="33.2" r="0.9" fill="#f7b9a4"/><path d="M129.9 50.6 H140.9 C143 52 145.4 54 146.6 56.4 L147.8 61.5 H144.4 L143.6 57.6 L136.2 56 L131.2 57.4 L131.4 61.5 H127.6 L127.4 56.6 C127.8 54 128.6 52 129.9 50.6 Z" fill="#262a3a"/><rect x="135" y="52" width="1.6" height="1.6" fill="#e9e6f5"/></g></g></svg>
<div style="position:absolute;left:1281px;top:151.48px;white-space:nowrap;font-size:15.58px;line-height:20.25px;color:#fff;font-weight:700;">Hi, Tom Phillip</div>
<svg style="position:absolute;left:1394px;top:151.2px;" width="21" height="21" viewBox="0 0 22 21"><g><path d="M5.5 7 C4.5 10 6 15.5 10 17.5 C14 19.5 18 17.5 19 14 C19.8 11 18.6 8.6 17.4 6.6 L15 3.4 C14.4 2.6 13.2 3.4 13.8 4.4 L15.2 7 L11.4 2.6 C10.6 1.8 9.6 2.8 10.2 3.6 L13 7.6 L8.8 3.6 C8 2.9 7 3.9 7.7 4.7 L11.4 9 L8 6.4 C7.1 5.8 6.3 6.9 7 7.6 L10.4 11 Z" fill="#fcc21b" stroke="#1d2233" stroke-width="1.5" stroke-linejoin="round"/><path d="M3 9 L1.2 8 M4 5.6 L3 3.8 M19.6 4.2 L20.8 2.6" stroke="#fcc21b" stroke-width="1.2" stroke-linecap="round"/></g></svg>
<div style="position:absolute;left:1281px;top:175.01px;white-space:nowrap;font-size:12.91px;line-height:16.79px;color:#f6f1ff;font-weight:400;">Check out the latest sales updates.</div>
<div style="position:absolute;left:1281.6px;top:208.8px;width:131.6px;height:31.6px;background:#ff49cd;border-radius:3.2px;"></div>
<div style="position:absolute;left:1300.4px;top:217.43px;white-space:nowrap;font-size:11.34px;line-height:14.74px;color:#fff;font-weight:400;-webkit-text-stroke:0.5px #fff;">Upgrade To Pro</div>
<svg style="position:absolute;left:1384.8px;top:221.92px;" width="8.8" height="6.16" viewBox="0 0 5 3.5"><g fill="none" stroke="#fff" stroke-width="0.55" stroke-linecap="round" stroke-linejoin="round"><path d="M0.4 1.75 H4.4"/><path d="M3.1 0.5 L4.4 1.75 L3.1 3"/></g></svg>
<div style="position:absolute;left:1264.4px;top:280px;width:312.2px;height:336px;background:#fff;border:1.0px solid #edf1f7;border-radius:5px;box-sizing:border-box;"></div>
<div style="position:absolute;left:1281px;top:295.74px;white-space:nowrap;font-size:13.32px;line-height:17.32px;color:#1c2848;font-weight:700;">Visitors By Device</div>
<div style="position:absolute;left:1546.4px;top:297.55px;white-space:nowrap;font-size:10.54px;line-height:13.7px;color:#72809a;font-weight:400;transform:translateX(-100%);text-decoration:underline;">View Report</div>
<svg style="position:absolute;left:1549.6px;top:301.72px;" width="8.8" height="6.16" viewBox="0 0 5 3.5"><g fill="none" stroke="#72809a" stroke-width="0.55" stroke-linecap="round" stroke-linejoin="round"><path d="M0.4 1.75 H4.4"/><path d="M3.1 0.5 L4.4 1.75 L3.1 3"/></g></svg>
<div style="position:absolute;left:1546.4px;top:309.6px;width:12.4px;height:0.8px;background:#72809a;"></div>
<div style="position:absolute;left:1264.4px;top:328.7px;width:312.2px;height:1px;background:#edf1f7;"></div>
<svg style="position:absolute;left:0;top:0" width="1600" height="1200" viewBox="0 0 800 600"><polygon points="708.50,195.50 741.88,211.58 750.13,247.70 727.03,276.67 689.97,276.67 666.87,247.70 675.12,211.58" fill="#f9f6ff" stroke="#e7dcfc" stroke-width="0.4"/><polygon points="708.50,204.04 735.21,216.90 741.80,245.80 723.32,268.98 693.68,268.98 675.20,245.80 681.79,216.90" fill="#f3edff" stroke="#e7dcfc" stroke-width="0.4"/><polygon points="708.50,212.58 728.53,222.23 733.48,243.90 719.62,261.28 697.38,261.28 683.52,243.90 688.47,222.23" fill="#f3edff" stroke="#e7dcfc" stroke-width="0.4"/><polygon points="708.50,221.12 721.85,227.55 725.15,242.00 715.91,253.59 701.09,253.59 691.85,242.00 695.15,227.55" fill="#f0e8ff" stroke="#e7dcfc" stroke-width="0.4"/><polygon points="708.50,229.66 715.18,232.88 716.83,240.10 712.21,245.89 704.79,245.89 700.17,240.10 701.82,232.88" fill="#f0e8ff" stroke="#e7dcfc" stroke-width="0.4"/><path d="M708.5 238.2 L708.50 195.50" stroke="#e7dcfc" stroke-width="0.4"/><path d="M708.5 238.2 L741.88 211.58" stroke="#e7dcfc" stroke-width="0.4"/><path d="M708.5 238.2 L750.13 247.70" stroke="#e7dcfc" stroke-width="0.4"/><path d="M708.5 238.2 L727.03 276.67" stroke="#e7dcfc" stroke-width="0.4"/><path d="M708.5 238.2 L689.97 276.67" stroke="#e7dcfc" stroke-width="0.4"/><path d="M708.5 238.2 L666.87 247.70" stroke="#e7dcfc" stroke-width="0.4"/><path d="M708.5 238.2 L675.12 211.58" stroke="#e7dcfc" stroke-width="0.4"/><polygon points="708.50,204.04 725.19,224.89 750.13,247.70 714.06,249.74 701.09,253.59 703.50,239.34 701.82,232.88" fill="#985ffd" stroke="#985ffd" stroke-width="0.5" stroke-linejoin="round"/><polygon points="708.50,229.66 718.52,230.21 725.15,242.00 722.95,268.21 704.79,245.89 671.03,246.75 696.82,228.88" fill="#32d484" stroke="#32d484" stroke-width="0.5" stroke-linejoin="round"/><polygon points="708.50,221.12 733.54,218.23 717.66,240.29 711.28,243.97 707.57,240.12 704.34,239.15 681.79,216.90" fill="#fdaf22" stroke="#fdaf22" stroke-width="0.5" stroke-linejoin="round"/></svg>
<div style="position:absolute;left:1417.2px;top:471.21px;white-space:nowrap;font-size:8.6px;line-height:11.18px;color:#fff;font-weight:700;transform:translateX(-50%);">0</div>
<div style="position:absolute;left:1417.2px;top:454.61px;white-space:nowrap;font-size:8.6px;line-height:11.18px;color:#fff;font-weight:700;transform:translateX(-50%);">20</div>
<div style="position:absolute;left:1417.2px;top:438.01px;white-space:nowrap;font-size:8.6px;line-height:11.18px;color:#fff;font-weight:700;transform:translateX(-50%);">40</div>
<div style="position:absolute;left:1417.2px;top:421.41px;white-space:nowrap;font-size:8.6px;line-height:11.18px;color:#fff;font-weight:700;transform:translateX(-50%);">60</div>
<div style="position:absolute;left:1417px;top:373.1px;white-space:nowrap;font-size:10px;line-height:13px;color:#8f98a9;font-weight:400;transform:translateX(-50%);">Sun</div>
<div style="position:absolute;left:1499.2px;top:413.1px;white-space:nowrap;font-size:10px;line-height:13px;color:#8f98a9;font-weight:400;transform:translateX(-50%);">Mon</div>
<div style="position:absolute;left:1516.8px;top:483.5px;white-space:nowrap;font-size:10px;line-height:13px;color:#8f98a9;font-weight:400;transform:translateX(-50%);">Tues</div>
<div style="position:absolute;left:1470.4px;top:549.1px;white-space:nowrap;font-size:10px;line-height:13px;color:#8f98a9;font-weight:400;transform:translateX(-50%);">Wed</div>
<div style="position:absolute;left:1363.6px;top:549.1px;white-space:nowrap;font-size:10px;line-height:13px;color:#8f98a9;font-weight:400;transform:translateX(-50%);">Thu</div>
<div style="position:absolute;left:1320.8px;top:483.5px;white-space:nowrap;font-size:10px;line-height:13px;color:#8f98a9;font-weight:400;transform:translateX(-50%);">Fri</div>
<div style="position:absolute;left:1336px;top:413.1px;white-space:nowrap;font-size:10px;line-height:13px;color:#8f98a9;font-weight:400;transform:translateX(-50%);">Sat</div>
<div style="position:absolute;left:1342.4px;top:589px;width:5.6px;height:5.6px;background:#985ffd;border-radius:50%;"></div>
<div style="position:absolute;left:1353.2px;top:585.11px;white-space:nowrap;font-size:10.6px;line-height:13.78px;color:#27324f;font-weight:400;-webkit-text-stroke:0.45px #27324f;">Desktop</div>
<div style="position:absolute;left:1402.6px;top:589px;width:5.6px;height:5.6px;background:#32d484;border-radius:50%;"></div>
<div style="position:absolute;left:1413.4px;top:585.11px;white-space:nowrap;font-size:10.6px;line-height:13.78px;color:#27324f;font-weight:400;-webkit-text-stroke:0.45px #27324f;">Mobile</div>
<div style="position:absolute;left:1455.4px;top:589px;width:5.6px;height:5.6px;background:#fdaf22;border-radius:50%;"></div>
<div style="position:absolute;left:1466.2px;top:585.11px;white-space:nowrap;font-size:10.6px;line-height:13.78px;color:#27324f;font-weight:400;-webkit-text-stroke:0.45px #27324f;">Others</div>
<div style="position:absolute;left:262.8px;top:637.2px;width:313.6px;height:391.2px;background:#fff;border:1.0px solid #edf1f7;border-radius:5px;box-sizing:border-box;"></div>
<div style="position:absolute;left:280.6px;top:653.76px;white-space:nowrap;font-size:13.3px;line-height:17.29px;color:#1c2848;font-weight:700;">Top Selling Products</div>
<div style="position:absolute;left:546.8px;top:655.76px;white-space:nowrap;font-size:10.22px;line-height:13.29px;color:#72809a;font-weight:400;transform:translateX(-100%);text-decoration:underline;">View All</div>
<svg style="position:absolute;left:549.2px;top:659.86px;" width="8.4" height="5.88" viewBox="0 0 5 3.5"><g fill="none" stroke="#72809a" stroke-width="0.55" stroke-linecap="round" stroke-linejoin="round"><path d="M0.4 1.75 H4.4"/><path d="M3.1 0.5 L4.4 1.75 L3.1 3"/></g></svg>
<div style="position:absolute;left:547.2px;top:667.7px;width:10.8px;height:0.8px;background:#72809a;"></div>
<div style="position:absolute;left:262.8px;top:686.9px;width:313.6px;height:1px;background:#edf1f7;"></div>
<svg style="position:absolute;left:280.6px;top:702.6px;" width="39.4" height="39.4" viewBox="0 0 20 20"><rect width="20" height="20" rx="2" fill="#f7f6fb"/><rect x="2.8" y="3" width="14.4" height="14" rx="0.8" fill="#a6cfcb"/><rect x="2.8" y="14" width="14.4" height="3" fill="#86aaa7"/><circle cx="10" cy="9.4" r="3.8" fill="#f3ecdc"/><circle cx="6" cy="7.4" r="2.5" fill="#e8f0ea"/><circle cx="14" cy="7.8" r="2.4" fill="#f0e6d2"/><circle cx="7.6" cy="12.2" r="2" fill="#e2ebe3"/><circle cx="12.6" cy="12.2" r="2" fill="#ebe2cf"/><circle cx="10" cy="9.6" r="1.6" fill="#c9a873"/></svg>
<div style="position:absolute;left:333.8px;top:705.52px;white-space:nowrap;font-size:11.5px;line-height:14.95px;color:#1c2848;font-weight:700;">TaoTronics Wall Clock</div>
<div style="position:absolute;left:333.8px;top:725.59px;white-space:nowrap;font-size:11.4px;line-height:14.82px;color:#72809a;font-weight:400;">$699</div>
<div style="position:absolute;left:365.86px;top:726.6px;width:1px;height:12.8px;background:#e3e8f0;"></div>
<div style="position:absolute;left:374.36px;top:731.4px;width:3.6px;height:3.6px;background:#32d484;border-radius:50%;"></div>
<div style="position:absolute;left:381.96px;top:726.5px;white-space:nowrap;font-size:10px;line-height:13px;color:#32d484;font-weight:700;">In Stock</div>
<div style="position:absolute;left:558px;top:706.14px;white-space:nowrap;font-size:12.4px;line-height:16.12px;color:#1c2848;font-weight:700;transform:translateX(-100%);">1000</div>
<div style="position:absolute;left:558px;top:724.64px;white-space:nowrap;font-size:10.4px;line-height:13.52px;color:#72809a;font-weight:400;transform:translateX(-100%);">Sales</div>
<div style="position:absolute;left:262.8px;top:755.2px;width:313.6px;height:1px;background:#edf1f7;"></div>
<svg style="position:absolute;left:280.6px;top:770.9px;" width="39.4" height="39.4" viewBox="0 0 20 20"><rect width="20" height="20" rx="2" fill="#f7f6fb"/><path d="M7.8 4 C8.2 2 11.8 2 12.2 4 L15 6 L16.2 15.4 H14 V17.6 H6 V15.4 H3.8 L5 6 Z" fill="#9a2230"/><path d="M8.3 4.2 C8.9 6.6 11.1 6.6 11.7 4.2" fill="none" stroke="#6a1320" stroke-width="0.8"/><path d="M6.2 8 V15.4 M13.8 8 V15.4" stroke="#7c1a27" stroke-width="0.5"/><path d="M9.4 6.4 V9 M10.6 6.4 V9" stroke="#d9c9c9" stroke-width="0.3"/></svg>
<div style="position:absolute;left:333.8px;top:773.82px;white-space:nowrap;font-size:11.5px;line-height:14.95px;color:#1c2848;font-weight:700;">Club Fleece Hoodie</div>
<div style="position:absolute;left:333.8px;top:793.89px;white-space:nowrap;font-size:11.4px;line-height:14.82px;color:#72809a;font-weight:400;">$55</div>
<div style="position:absolute;left:359.52px;top:794.9px;width:1px;height:12.8px;background:#e3e8f0;"></div>
<div style="position:absolute;left:368.02px;top:799.7px;width:3.6px;height:3.6px;background:#32d484;border-radius:50%;"></div>
<div style="position:absolute;left:375.62px;top:794.8px;white-space:nowrap;font-size:10px;line-height:13px;color:#32d484;font-weight:700;">In Stock</div>
<div style="position:absolute;left:558px;top:774.44px;white-space:nowrap;font-size:12.4px;line-height:16.12px;color:#1c2848;font-weight:700;transform:translateX(-100%);">3,100</div>
<div style="position:absolute;left:558px;top:792.94px;white-space:nowrap;font-size:10.4px;line-height:13.52px;color:#72809a;font-weight:400;transform:translateX(-100%);">Sales</div>
<div style="position:absolute;left:262.8px;top:823.5px;width:313.6px;height:1px;background:#edf1f7;"></div>
<svg style="position:absolute;left:280.6px;top:839.2px;" width="39.4" height="39.4" viewBox="0 0 20 20"><rect width="20" height="20" rx="2" fill="#f7f6fb"/><path d="M5.2 5.8 a2.2 2.2 0 0 1 4.4 0 V16 a0.85 0.85 0 0 1 -1.7 0 V8.4 H7.2 a2 2 0 0 1 -2 -2.6 Z" fill="#57b9f0"/><path d="M14.8 5.8 a2.2 2.2 0 0 0 -4.4 0 V16 a0.85 0.85 0 0 0 1.7 0 V8.4 H12.8 a2 2 0 0 0 2 -2.6 Z" fill="#57b9f0"/></svg>
<div style="position:absolute;left:333.8px;top:842.12px;white-space:nowrap;font-size:11.5px;line-height:14.95px;color:#1c2848;font-weight:700;">SmartGizmo Pro</div>
<div style="position:absolute;left:333.8px;top:862.19px;white-space:nowrap;font-size:11.4px;line-height:14.82px;color:#72809a;font-weight:400;">$199</div>
<div style="position:absolute;left:365.86px;top:863.2px;width:1px;height:12.8px;background:#e3e8f0;"></div>
<div style="position:absolute;left:374.36px;top:868px;width:3.6px;height:3.6px;background:#32d484;border-radius:50%;"></div>
<div style="position:absolute;left:381.96px;top:863.1px;white-space:nowrap;font-size:10px;line-height:13px;color:#32d484;font-weight:700;">In Stock</div>
<div style="position:absolute;left:558px;top:842.74px;white-space:nowrap;font-size:12.4px;line-height:16.12px;color:#1c2848;font-weight:700;transform:translateX(-100%);">1,250</div>
<div style="position:absolute;left:558px;top:861.24px;white-space:nowrap;font-size:10.4px;line-height:13.52px;color:#72809a;font-weight:400;transform:translateX(-100%);">Sales</div>
<div style="position:absolute;left:262.8px;top:891.8px;width:313.6px;height:1px;background:#edf1f7;"></div>
<svg style="position:absolute;left:280.6px;top:907.5px;" width="39.4" height="39.4" viewBox="0 0 20 20"><rect width="20" height="20" rx="2" fill="#f7f6fb"/><path d="M6.8 4.8 H12 L13.4 16.4 H5.6 Z" fill="#f7f3ea" stroke="#b9b19c" stroke-width="0.4"/><path d="M12.4 6.6 C16 6.6 16.2 13 13.2 13.6" fill="none" stroke="#4a4234" stroke-width="1"/><rect x="8" y="3.4" width="2.8" height="1.4" fill="#4a4234"/><rect x="5.4" y="16" width="8.2" height="1.6" rx="0.3" fill="#3c3528"/><rect x="8.4" y="9" width="1.5" height="4.4" fill="#c9b27a"/></svg>
<div style="position:absolute;left:333.8px;top:910.42px;white-space:nowrap;font-size:11.5px;line-height:14.95px;color:#1c2848;font-weight:700;">TaoTronics Wall Clock</div>
<div style="position:absolute;left:333.8px;top:930.49px;white-space:nowrap;font-size:11.4px;line-height:14.82px;color:#72809a;font-weight:400;">$699</div>
<div style="position:absolute;left:365.86px;top:931.5px;width:1px;height:12.8px;background:#e3e8f0;"></div>
<div style="position:absolute;left:374.36px;top:936.3px;width:3.6px;height:3.6px;background:#ff6757;border-radius:50%;"></div>
<div style="position:absolute;left:381.96px;top:931.4px;white-space:nowrap;font-size:10px;line-height:13px;color:#ff6757;font-weight:700;">Out Of Stock</div>
<div style="position:absolute;left:558px;top:911.04px;white-space:nowrap;font-size:12.4px;line-height:16.12px;color:#1c2848;font-weight:700;transform:translateX(-100%);">1000</div>
<div style="position:absolute;left:558px;top:929.54px;white-space:nowrap;font-size:10.4px;line-height:13.52px;color:#72809a;font-weight:400;transform:translateX(-100%);">Sales</div>
<div style="position:absolute;left:262.8px;top:960.1px;width:313.6px;height:1px;background:#edf1f7;"></div>
<svg style="position:absolute;left:280.6px;top:975.8px;" width="39.4" height="39.4" viewBox="0 0 20 20"><rect width="20" height="20" rx="2" fill="#f7f6fb"/><rect x="2" y="2" width="16" height="16" rx="1" fill="#14151f"/><circle cx="5.6" cy="13.6" r="3.6" fill="#d4245a" opacity=".7"/><circle cx="14.6" cy="13.6" r="3.4" fill="#2a6fe0" opacity=".7"/><path d="M5.8 16.4 V9.4 C5.8 6.6 14.2 6.6 14.2 9.4 V16.4 Z" fill="#c3263c"/><path d="M7.6 7.8 C7.6 4 12.4 4 12.4 7.8" fill="none" stroke="#ff7a3c" stroke-width="0.9"/><rect x="7.6" y="11.4" width="4.8" height="3.4" fill="#6a35c8"/></svg>
<div style="position:absolute;left:333.8px;top:978.72px;white-space:nowrap;font-size:11.5px;line-height:14.95px;color:#1c2848;font-weight:700;">UltraMaze School Bag</div>
<div style="position:absolute;left:333.8px;top:998.79px;white-space:nowrap;font-size:11.4px;line-height:14.82px;color:#72809a;font-weight:400;">$89</div>
<div style="position:absolute;left:359.52px;top:999.8px;width:1px;height:12.8px;background:#e3e8f0;"></div>
<div style="position:absolute;left:368.02px;top:1004.6px;width:3.6px;height:3.6px;background:#32d484;border-radius:50%;"></div>
<div style="position:absolute;left:375.62px;top:999.7px;white-space:nowrap;font-size:10px;line-height:13px;color:#32d484;font-weight:700;">In Stock</div>
<div style="position:absolute;left:558px;top:979.34px;white-space:nowrap;font-size:12.4px;line-height:16.12px;color:#1c2848;font-weight:700;transform:translateX(-100%);">2,150</div>
<div style="position:absolute;left:558px;top:997.84px;white-space:nowrap;font-size:10.4px;line-height:13.52px;color:#72809a;font-weight:400;transform:translateX(-100%);">Sales</div>
<div style="position:absolute;left:596.8px;top:637.2px;width:312.2px;height:391.2px;background:#fff;border:1.0px solid #edf1f7;border-radius:5px;box-sizing:border-box;"></div>
<div style="position:absolute;left:613.6px;top:653.27px;white-space:nowrap;font-size:14.05px;line-height:18.27px;color:#1c2848;font-weight:700;">Recent Activity</div>
<div style="position:absolute;left:880.8px;top:655.76px;white-space:nowrap;font-size:10.22px;line-height:13.29px;color:#72809a;font-weight:400;transform:translateX(-100%);text-decoration:underline;">View All</div>
<svg style="position:absolute;left:883.2px;top:659.86px;" width="8.4" height="5.88" viewBox="0 0 5 3.5"><g fill="none" stroke="#72809a" stroke-width="0.55" stroke-linecap="round" stroke-linejoin="round"><path d="M0.4 1.75 H4.4"/><path d="M3.1 0.5 L4.4 1.75 L3.1 3"/></g></svg>
<div style="position:absolute;left:881.2px;top:667.7px;width:10.8px;height:0.8px;background:#72809a;"></div>
<div style="position:absolute;left:596.8px;top:686.9px;width:312.2px;height:1px;background:#edf1f7;"></div>
<div style="position:absolute;left:705px;top:719.4px;width:1px;height:300px;background:#e9edf4;"></div>
<div style="position:absolute;left:682.8px;top:711.26px;white-space:nowrap;font-size:11.6px;line-height:15.08px;color:#1c2848;font-weight:700;transform:translateX(-100%);">24,Nov</div>
<div style="position:absolute;left:682.8px;top:727.05px;white-space:nowrap;font-size:11px;line-height:14.3px;color:#72809a;font-weight:400;transform:translateX(-100%);">08:45 AM</div>
<div style="position:absolute;left:700.1px;top:713.4px;width:10.8px;height:10.8px;background:#fff;border-radius:50%;"></div>
<div style="position:absolute;left:700.3px;top:713.6px;width:10.4px;height:10.4px;background:#985ffd;opacity:.16;border-radius:50%;"></div>
<div style="position:absolute;left:702.9px;top:716.2px;width:5.2px;height:5.2px;background:#985ffd;border-radius:50%;"></div>
<div style="position:absolute;left:725px;top:709.19px;white-space:nowrap;font-size:11.7px;line-height:15.21px;color:#36425c;font-weight:400;">John Doe placed an order</div>
<div style="position:absolute;left:725px;top:725.29px;white-space:nowrap;font-size:11.7px;line-height:15.21px;color:#36425c;font-weight:400;">for <span style="color:#985ffd">5x Apple iPhone 14</span></div>
<div style="position:absolute;left:682.8px;top:761.86px;white-space:nowrap;font-size:11.6px;line-height:15.08px;color:#1c2848;font-weight:700;transform:translateX(-100%);">24,Nov</div>
<div style="position:absolute;left:682.8px;top:777.65px;white-space:nowrap;font-size:11px;line-height:14.3px;color:#72809a;font-weight:400;transform:translateX(-100%);">09:15 AM</div>
<div style="position:absolute;left:700.1px;top:764px;width:10.8px;height:10.8px;background:#fff;border-radius:50%;"></div>
<div style="position:absolute;left:700.3px;top:764.2px;width:10.4px;height:10.4px;background:#fdaf22;opacity:.16;border-radius:50%;"></div>
<div style="position:absolute;left:702.9px;top:766.8px;width:5.2px;height:5.2px;background:#fdaf22;border-radius:50%;"></div>
<div style="position:absolute;left:725px;top:759.79px;white-space:nowrap;font-size:11.7px;line-height:15.21px;color:#36425c;font-weight:400;">Payment of <b>$1,250.00</b></div>
<div style="position:absolute;left:725px;top:775.89px;white-space:nowrap;font-size:11.7px;line-height:15.21px;color:#36425c;font-weight:400;">received from <b>Alice Smith</b></div>
<div style="position:absolute;left:725px;top:792px;white-space:nowrap;font-size:11.7px;line-height:15.21px;color:#36425c;font-weight:400;">for <span style="color:#fdaf22">Order #1020</span>.</div>
<div style="position:absolute;left:682.8px;top:828.46px;white-space:nowrap;font-size:11.6px;line-height:15.08px;color:#1c2848;font-weight:700;transform:translateX(-100%);">24,Nov</div>
<div style="position:absolute;left:682.8px;top:844.25px;white-space:nowrap;font-size:11px;line-height:14.3px;color:#72809a;font-weight:400;transform:translateX(-100%);">10:00 AM</div>
<div style="position:absolute;left:700.1px;top:830.6px;width:10.8px;height:10.8px;background:#fff;border-radius:50%;"></div>
<div style="position:absolute;left:700.3px;top:830.8px;width:10.4px;height:10.4px;background:#00c9ff;opacity:.16;border-radius:50%;"></div>
<div style="position:absolute;left:702.9px;top:833.4px;width:5.2px;height:5.2px;background:#00c9ff;border-radius:50%;"></div>
<div style="position:absolute;left:725px;top:826.39px;white-space:nowrap;font-size:11.7px;line-height:15.21px;color:#36425c;font-weight:400;"><b>David Brown</b> requested a</div>
<div style="position:absolute;left:725px;top:842.5px;white-space:nowrap;font-size:11.7px;line-height:15.21px;color:#36425c;font-weight:400;">refund for <span style="color:#00c9ff">1x Samsung</span></div>
<div style="position:absolute;left:725px;top:858.6px;white-space:nowrap;font-size:11.7px;line-height:15.21px;color:#36425c;font-weight:400;"><span style="color:#00c9ff">Galaxy S22</span>.</div>
<div style="position:absolute;left:682.8px;top:894.86px;white-space:nowrap;font-size:11.6px;line-height:15.08px;color:#1c2848;font-weight:700;transform:translateX(-100%);">24,Nov</div>
<div style="position:absolute;left:682.8px;top:910.65px;white-space:nowrap;font-size:11px;line-height:14.3px;color:#72809a;font-weight:400;transform:translateX(-100%);">10:45 AM</div>
<div style="position:absolute;left:700.1px;top:897px;width:10.8px;height:10.8px;background:#fff;border-radius:50%;"></div>
<div style="position:absolute;left:700.3px;top:897.2px;width:10.4px;height:10.4px;background:#32d484;opacity:.16;border-radius:50%;"></div>
<div style="position:absolute;left:702.9px;top:899.8px;width:5.2px;height:5.2px;background:#32d484;border-radius:50%;"></div>
<div style="position:absolute;left:725px;top:892.79px;white-space:nowrap;font-size:11.7px;line-height:15.21px;color:#36425c;font-weight:400;"><span style="color:#32d484">Product ID: 5409</span> (Sony</div>
<div style="position:absolute;left:725px;top:908.89px;white-space:nowrap;font-size:11.7px;line-height:15.21px;color:#36425c;font-weight:400;">WH-1000XM5) stock</div>
<div style="position:absolute;left:725px;top:925px;white-space:nowrap;font-size:11.7px;line-height:15.21px;color:#36425c;font-weight:400;">dropped below threshold.</div>
<div style="position:absolute;left:682.8px;top:962.06px;white-space:nowrap;font-size:11.6px;line-height:15.08px;color:#1c2848;font-weight:700;transform:translateX(-100%);">24,Nov</div>
<div style="position:absolute;left:682.8px;top:977.85px;white-space:nowrap;font-size:11px;line-height:14.3px;color:#72809a;font-weight:400;transform:translateX(-100%);">11:30 AM</div>
<div style="position:absolute;left:700.1px;top:964.2px;width:10.8px;height:10.8px;background:#fff;border-radius:50%;"></div>
<div style="position:absolute;left:700.3px;top:964.4px;width:10.4px;height:10.4px;background:#ff8e3c;opacity:.16;border-radius:50%;"></div>
<div style="position:absolute;left:702.9px;top:967px;width:5.2px;height:5.2px;background:#ff8e3c;border-radius:50%;"></div>
<div style="position:absolute;left:725px;top:960px;white-space:nowrap;font-size:11.7px;line-height:15.21px;color:#36425c;font-weight:400;"><b>Emma Johnson</b> left a 5-</div>
<div style="position:absolute;left:725px;top:976.1px;white-space:nowrap;font-size:11.7px;line-height:15.21px;color:#36425c;font-weight:400;">star review on <span style="color:#ff8e3c">Product ID:</span></div>
<div style="position:absolute;left:725px;top:992.2px;white-space:nowrap;font-size:11.7px;line-height:15.21px;color:#36425c;font-weight:400;"><span style="color:#ff8e3c">7312</span> (Dell XPS 13).</div>
<div style="position:absolute;left:930.4px;top:637.2px;width:313.4px;height:391.2px;background:#fff;border:1.0px solid #edf1f7;border-radius:5px;box-sizing:border-box;"></div>
<div style="position:absolute;left:947.6px;top:653.8px;white-space:nowrap;font-size:13.22px;line-height:17.19px;color:#1c2848;font-weight:700;">Top Customers</div>
<div style="position:absolute;left:1214px;top:655.76px;white-space:nowrap;font-size:10.22px;line-height:13.29px;color:#72809a;font-weight:400;transform:translateX(-100%);text-decoration:underline;">View All</div>
<svg style="position:absolute;left:1216.4px;top:659.86px;" width="8.4" height="5.88" viewBox="0 0 5 3.5"><g fill="none" stroke="#72809a" stroke-width="0.55" stroke-linecap="round" stroke-linejoin="round"><path d="M0.4 1.75 H4.4"/><path d="M3.1 0.5 L4.4 1.75 L3.1 3"/></g></svg>
<div style="position:absolute;left:1214.4px;top:667.7px;width:10.8px;height:0.8px;background:#72809a;"></div>
<div style="position:absolute;left:930.4px;top:687.3px;width:313.4px;height:1px;background:#edf1f7;"></div>
<div style="position:absolute;left:947.6px;top:705px;width:278.4px;height:55.2px;border:1.0px dashed #e4e9f1;border-radius:6px;"></div>
<div style="position:absolute;left:957.4px;top:716.2px;width:33px;height:33px;background:#f1eaff;border-radius:4px;"></div>
<div style="position:absolute;left:973.9px;top:726.82px;white-space:nowrap;font-size:9.2px;line-height:11.96px;color:#985ffd;font-weight:700;transform:translateX(-50%);">JS</div>
<div style="position:absolute;left:1003.8px;top:717.53px;white-space:nowrap;font-size:11.8px;line-height:15.34px;color:#1c2848;font-weight:700;">Jane Smith</div>
<div style="position:absolute;left:1003.8px;top:735.38px;white-space:nowrap;font-size:10.8px;line-height:14.04px;color:#72809a;font-weight:400;">janesmith215@gmail.com</div>
<div style="position:absolute;left:1216.2px;top:717.27px;white-space:nowrap;font-size:12.2px;line-height:15.86px;color:#985ffd;font-weight:700;transform:translateX(-100%);">$23,755</div>
<div style="position:absolute;left:1216.2px;top:734.99px;white-space:nowrap;font-size:11.4px;line-height:14.82px;color:#72809a;font-weight:400;transform:translateX(-100%);">Spent</div>
<div style="position:absolute;left:947.6px;top:768px;width:278.4px;height:55.2px;border:1.0px dashed #e4e9f1;border-radius:6px;"></div>
<div style="position:absolute;left:957.4px;top:779.2px;width:33px;height:33px;background:#ffe7f8;border-radius:4px;"></div>
<div style="position:absolute;left:973.9px;top:789.82px;white-space:nowrap;font-size:9.2px;line-height:11.96px;color:#ff49cd;font-weight:700;transform:translateX(-50%);">JD</div>
<div style="position:absolute;left:1003.8px;top:780.53px;white-space:nowrap;font-size:11.8px;line-height:15.34px;color:#1c2848;font-weight:700;">Jhon Doe</div>
<div style="position:absolute;left:1003.8px;top:798.38px;white-space:nowrap;font-size:10.8px;line-height:14.04px;color:#72809a;font-weight:400;">jhondoe431@gmail.com</div>
<div style="position:absolute;left:1216.2px;top:780.27px;white-space:nowrap;font-size:12.2px;line-height:15.86px;color:#ff49cd;font-weight:700;transform:translateX(-100%);">$14,563</div>
<div style="position:absolute;left:1216.2px;top:797.99px;white-space:nowrap;font-size:11.4px;line-height:14.82px;color:#72809a;font-weight:400;transform:translateX(-100%);">Spent</div>
<div style="position:absolute;left:947.6px;top:831px;width:278.4px;height:55.2px;border:1.0px dashed #e4e9f1;border-radius:6px;"></div>
<div style="position:absolute;left:957.4px;top:842.2px;width:33px;height:33px;background:#fff3dc;border-radius:4px;"></div>
<div style="position:absolute;left:973.9px;top:852.82px;white-space:nowrap;font-size:9.2px;line-height:11.96px;color:#fdaf22;font-weight:700;transform:translateX(-50%);">AK</div>
<div style="position:absolute;left:1003.8px;top:843.53px;white-space:nowrap;font-size:11.8px;line-height:15.34px;color:#1c2848;font-weight:700;">Alicia Keys</div>
<div style="position:absolute;left:1003.8px;top:861.38px;white-space:nowrap;font-size:10.8px;line-height:14.04px;color:#72809a;font-weight:400;">aliciakeys986@gmail.com</div>
<div style="position:absolute;left:1216.2px;top:843.27px;white-space:nowrap;font-size:12.2px;line-height:15.86px;color:#fdaf22;font-weight:700;transform:translateX(-100%);">$12,075</div>
<div style="position:absolute;left:1216.2px;top:860.99px;white-space:nowrap;font-size:11.4px;line-height:14.82px;color:#72809a;font-weight:400;transform:translateX(-100%);">Spent</div>
<div style="position:absolute;left:947.6px;top:894px;width:278.4px;height:55.2px;border:1.0px dashed #e4e9f1;border-radius:6px;"></div>
<div style="position:absolute;left:957.4px;top:905.2px;width:33px;height:33px;background:#ddf7ff;border-radius:4px;"></div>
<div style="position:absolute;left:973.9px;top:915.82px;white-space:nowrap;font-size:9.2px;line-height:11.96px;color:#00c9ff;font-weight:700;transform:translateX(-50%);">LP</div>
<div style="position:absolute;left:1003.8px;top:906.53px;white-space:nowrap;font-size:11.8px;line-height:15.34px;color:#1c2848;font-weight:700;">Leo Phillip</div>
<div style="position:absolute;left:1003.8px;top:924.38px;white-space:nowrap;font-size:10.8px;line-height:14.04px;color:#72809a;font-weight:400;">leophillip77@gmail.com</div>
<div style="position:absolute;left:1216.2px;top:906.27px;white-space:nowrap;font-size:12.2px;line-height:15.86px;color:#00c9ff;font-weight:700;transform:translateX(-100%);">$10,485</div>
<div style="position:absolute;left:1216.2px;top:923.99px;white-space:nowrap;font-size:11.4px;line-height:14.82px;color:#72809a;font-weight:400;transform:translateX(-100%);">Spent</div>
<div style="position:absolute;left:947.6px;top:957px;width:278.4px;height:55.2px;border:1.0px dashed #e4e9f1;border-radius:6px;"></div>
<div style="position:absolute;left:957.4px;top:968.2px;width:33px;height:33px;background:#e2f9ee;border-radius:4px;"></div>
<div style="position:absolute;left:973.9px;top:978.82px;white-space:nowrap;font-size:9.2px;line-height:11.96px;color:#32d484;font-weight:700;transform:translateX(-50%);">BS</div>
<div style="position:absolute;left:1003.8px;top:969.53px;white-space:nowrap;font-size:11.8px;line-height:15.34px;color:#1c2848;font-weight:700;">Brenda Simpson</div>
<div style="position:absolute;left:1003.8px;top:987.38px;white-space:nowrap;font-size:10.8px;line-height:14.04px;color:#72809a;font-weight:400;">brendasimpson075@gmail.com</div>
<div style="position:absolute;left:1216.2px;top:969.27px;white-space:nowrap;font-size:12.2px;line-height:15.86px;color:#32d484;font-weight:700;transform:translateX(-100%);">$8,533</div>
<div style="position:absolute;left:1216.2px;top:986.99px;white-space:nowrap;font-size:11.4px;line-height:14.82px;color:#72809a;font-weight:400;transform:translateX(-100%);">Spent</div>
<div style="position:absolute;left:1264.4px;top:637.2px;width:312.4px;height:391.2px;background:#fff;border:1.0px solid #edf1f7;border-radius:5px;box-sizing:border-box;"></div>
<div style="position:absolute;left:1281.5px;top:655.71px;white-space:nowrap;font-size:13.06px;line-height:16.97px;color:#1c2848;font-weight:700;">Top User Channels</div>
<div style="position:absolute;left:1536.6px;top:652.8px;width:22.4px;height:22.8px;background:#f9f8fd;border-radius:3px;"></div>
<div style="position:absolute;left:1546.8px;top:659.2px;width:2px;height:2px;background:#3c4a63;border-radius:50%;"></div>
<div style="position:absolute;left:1546.8px;top:663px;width:2px;height:2px;background:#3c4a63;border-radius:50%;"></div>
<div style="position:absolute;left:1546.8px;top:666.8px;width:2px;height:2px;background:#3c4a63;border-radius:50%;"></div>
<div style="position:absolute;left:1264.4px;top:690.3px;width:312.4px;height:1px;background:#edf1f7;"></div>
<div style="position:absolute;left:1281.5px;top:708.4px;width:33.2px;height:33.2px;background:#f9f8fd;border-radius:4px;"></div>
<svg style="position:absolute;left:1286.1px;top:713px;" width="24" height="24" viewBox="0 0 16 16"><path d="M8 2.4 L9.4 4 L11.6 3.6 L12 5.8 L14 6.8 L12.8 8.6 L13.6 10.6 L11.6 11.4 L11 13.6 L8.8 13 L8 13.6 L7.2 13 L5 13.6 L4.4 11.4 L2.4 10.6 L3.2 8.6 L2 6.8 L4 5.8 L4.4 3.6 L6.6 4 Z" fill="#1f9d3a"/><rect x="6.6" y="6.4" width="2.8" height="4.4" fill="#fff"/></svg>
<div style="position:absolute;left:1327.8px;top:709.53px;white-space:nowrap;font-size:11.8px;line-height:15.34px;color:#1c2848;font-weight:700;">CloudComm</div>
<div style="position:absolute;left:1327.8px;top:728.78px;white-space:nowrap;font-size:10.8px;line-height:14.04px;color:#72809a;font-weight:400;">Digital Communication</div>
<div style="position:absolute;left:1559px;top:712.81px;white-space:nowrap;font-size:12.6px;line-height:16.38px;color:#1c2848;font-weight:700;transform:translateX(-100%);">3,765</div>
<div style="position:absolute;left:1522.27px;top:714.37px;white-space:nowrap;font-size:10.2px;line-height:13.26px;color:#32d484;font-weight:400;transform:translateX(-100%);">2.98%</div>
<svg style="position:absolute;left:1487.15px;top:716.6px;" width="5.2" height="8.8" viewBox="0 0 2.6 4.4"><g fill="none" stroke="#32d484" stroke-width="0.5" stroke-linecap="round" stroke-linejoin="round"><path d="M1.3 4 V0.6"/><path d="M0.3 1.6 L1.3 0.6 L2.3 1.6"/></g></svg>
<div style="position:absolute;left:1482.8px;top:736.4px;width:76.4px;height:3.6px;background:#985ffd;opacity:.14;border-radius:2px;"></div>
<div style="position:absolute;left:1482.8px;top:736.4px;width:56.4px;height:3.6px;background:#985ffd;border-radius:2px;"></div>
<div style="position:absolute;left:1281.5px;top:762.06px;width:33.2px;height:33.2px;background:#f9f8fd;border-radius:4px;"></div>
<svg style="position:absolute;left:1286.1px;top:766.66px;" width="24" height="24" viewBox="0 0 16 16"><path d="M3 3 H6 L13 13 H10 Z" fill="#7a3ff0"/><path d="M13 3 H10.4 L3 13 H5.6 Z" fill="#14a7e0"/><path d="M6.6 8 L8 6 L9.4 8 L8 10 Z" fill="#e23bb8"/></svg>
<div style="position:absolute;left:1327.8px;top:763.19px;white-space:nowrap;font-size:11.8px;line-height:15.34px;color:#1c2848;font-weight:700;">BuzzWave</div>
<div style="position:absolute;left:1327.8px;top:782.44px;white-space:nowrap;font-size:10.8px;line-height:14.04px;color:#72809a;font-weight:400;">Social Media</div>
<div style="position:absolute;left:1559px;top:766.47px;white-space:nowrap;font-size:12.6px;line-height:16.38px;color:#1c2848;font-weight:700;transform:translateX(-100%);">2,855</div>
<div style="position:absolute;left:1522.27px;top:768.03px;white-space:nowrap;font-size:10.2px;line-height:13.26px;color:#ff6757;font-weight:400;transform:translateX(-100%);">6.45%</div>
<svg style="position:absolute;left:1487.15px;top:770.26px;" width="5.2" height="8.8" viewBox="0 0 2.6 4.4"><g fill="none" stroke="#ff6757" stroke-width="0.5" stroke-linecap="round" stroke-linejoin="round"><path d="M1.3 0.4 V3.8"/><path d="M0.3 2.8 L1.3 3.8 L2.3 2.8"/></g></svg>
<div style="position:absolute;left:1482.8px;top:790.06px;width:76.4px;height:3.6px;background:#ff49cd;opacity:.14;border-radius:2px;"></div>
<div style="position:absolute;left:1482.8px;top:790.06px;width:32.8px;height:3.6px;background:#ff49cd;border-radius:2px;"></div>
<div style="position:absolute;left:1281.5px;top:815.72px;width:33.2px;height:33.2px;background:#f9f8fd;border-radius:4px;"></div>
<svg style="position:absolute;left:1286.1px;top:820.32px;" width="24" height="24" viewBox="0 0 16 16"><circle cx="8" cy="8" r="1.8" fill="#1aa7a0"/><path d="M8 1.8 L10 5 H6 Z M8 14.2 L10 11 H6 Z M1.8 8 L5 6 V10 Z M14.2 8 L11 6 V10 Z" fill="#25b8a8"/><path d="M3.4 3.4 L6 4.4 L4.4 6 Z M12.6 12.6 L10 11.6 L11.6 10 Z" fill="#4ad0c0"/></svg>
<div style="position:absolute;left:1327.8px;top:816.85px;white-space:nowrap;font-size:11.8px;line-height:15.34px;color:#1c2848;font-weight:700;">NexusNet</div>
<div style="position:absolute;left:1327.8px;top:836.1px;white-space:nowrap;font-size:10.8px;line-height:14.04px;color:#72809a;font-weight:400;">Networking</div>
<div style="position:absolute;left:1559px;top:820.13px;white-space:nowrap;font-size:12.6px;line-height:16.38px;color:#1c2848;font-weight:700;transform:translateX(-100%);">2,384</div>
<div style="position:absolute;left:1522.27px;top:821.69px;white-space:nowrap;font-size:10.2px;line-height:13.26px;color:#32d484;font-weight:400;transform:translateX(-100%);">1.95%</div>
<svg style="position:absolute;left:1487.15px;top:823.92px;" width="5.2" height="8.8" viewBox="0 0 2.6 4.4"><g fill="none" stroke="#32d484" stroke-width="0.5" stroke-linecap="round" stroke-linejoin="round"><path d="M1.3 4 V0.6"/><path d="M0.3 1.6 L1.3 0.6 L2.3 1.6"/></g></svg>
<div style="position:absolute;left:1484px;top:843.72px;width:75.2px;height:3.6px;background:#fdaf22;opacity:.14;border-radius:2px;"></div>
<div style="position:absolute;left:1484px;top:843.72px;width:60.8px;height:3.6px;background:#fdaf22;border-radius:2px;"></div>
<div style="position:absolute;left:1281.5px;top:869.38px;width:33.2px;height:33.2px;background:#f9f8fd;border-radius:4px;"></div>
<svg style="position:absolute;left:1286.1px;top:873.98px;" width="24" height="24" viewBox="0 0 16 16"><path d="M8 2 L14 8 L8 14 L2 8 Z" fill="none" stroke="#1d7df0" stroke-width="1.8"/><path d="M8 5.4 L10.6 8 L8 10.6 L5.4 8 Z" fill="#e8336a"/></svg>
<div style="position:absolute;left:1327.8px;top:870.51px;white-space:nowrap;font-size:11.8px;line-height:15.34px;color:#1c2848;font-weight:700;">FlashConnect</div>
<div style="position:absolute;left:1327.8px;top:889.76px;white-space:nowrap;font-size:10.8px;line-height:14.04px;color:#72809a;font-weight:400;">Direct Marketing</div>
<div style="position:absolute;left:1559px;top:873.79px;white-space:nowrap;font-size:12.6px;line-height:16.38px;color:#1c2848;font-weight:700;transform:translateX(-100%);">1,755</div>
<div style="position:absolute;left:1522.27px;top:875.35px;white-space:nowrap;font-size:10.2px;line-height:13.26px;color:#ff6757;font-weight:400;transform:translateX(-100%);">5.91%</div>
<svg style="position:absolute;left:1487.15px;top:877.58px;" width="5.2" height="8.8" viewBox="0 0 2.6 4.4"><g fill="none" stroke="#ff6757" stroke-width="0.5" stroke-linecap="round" stroke-linejoin="round"><path d="M1.3 0.4 V3.8"/><path d="M0.3 2.8 L1.3 3.8 L2.3 2.8"/></g></svg>
<div style="position:absolute;left:1486.2px;top:897.38px;width:73px;height:3.6px;background:#00c9ff;opacity:.14;border-radius:2px;"></div>
<div style="position:absolute;left:1486.2px;top:897.38px;width:43.2px;height:3.6px;background:#00c9ff;border-radius:2px;"></div>
<div style="position:absolute;left:1281.5px;top:923.04px;width:33.2px;height:33.2px;background:#f9f8fd;border-radius:4px;"></div>
<svg style="position:absolute;left:1286.1px;top:927.64px;" width="24" height="24" viewBox="0 0 16 16"><path d="M8 1.8 C11 4.4 13.4 6.6 13.4 9.6 A5.4 5.4 0 0 1 2.6 9.6 C2.6 7.6 3.8 6.2 5 5.4 C5 7 5.8 7.8 6.6 7.8 C6.4 5.4 7 3.4 8 1.8 Z" fill="#f2511b"/><path d="M8 8.4 C9.4 9.6 10.4 10.6 10.4 12 A2.4 2.4 0 0 1 5.6 12 C5.6 10.6 6.8 9.8 8 8.4 Z" fill="#ffc233"/></svg>
<div style="position:absolute;left:1327.8px;top:924.17px;white-space:nowrap;font-size:11.8px;line-height:15.34px;color:#1c2848;font-weight:700;">EchoLink</div>
<div style="position:absolute;left:1327.8px;top:943.42px;white-space:nowrap;font-size:10.8px;line-height:14.04px;color:#72809a;font-weight:400;">Feedback &amp; Surveys</div>
<div style="position:absolute;left:1559px;top:927.45px;white-space:nowrap;font-size:12.6px;line-height:16.38px;color:#1c2848;font-weight:700;transform:translateX(-100%);">1,525</div>
<div style="position:absolute;left:1522.27px;top:929.01px;white-space:nowrap;font-size:10.2px;line-height:13.26px;color:#32d484;font-weight:400;transform:translateX(-100%);">3.75%</div>
<svg style="position:absolute;left:1487.15px;top:931.24px;" width="5.2" height="8.8" viewBox="0 0 2.6 4.4"><g fill="none" stroke="#32d484" stroke-width="0.5" stroke-linecap="round" stroke-linejoin="round"><path d="M1.3 4 V0.6"/><path d="M0.3 1.6 L1.3 0.6 L2.3 1.6"/></g></svg>
<div style="position:absolute;left:1486.2px;top:951.04px;width:73px;height:3.6px;background:#32d484;opacity:.14;border-radius:2px;"></div>
<div style="position:absolute;left:1486.2px;top:951.04px;width:37.4px;height:3.6px;background:#32d484;border-radius:2px;"></div>
<div style="position:absolute;left:1281.5px;top:976.7px;width:33.2px;height:33.2px;background:#f9f8fd;border-radius:4px;"></div>
<svg style="position:absolute;left:1286.1px;top:981.3px;" width="24" height="24" viewBox="0 0 16 16"><path d="M8 2 C11.6 2 14 6 14 13.4 C12 13.4 11 12.6 10.6 10.8 C10.2 8 9.4 7 8 7 C6.6 7 5.8 8 5.4 10.8 C5 12.6 4 13.4 2 13.4 C2 6 4.4 2 8 2 Z" fill="#7a3ff0"/><path d="M8 2 C11.6 2 14 6 14 13.4 C12 13.4 11 12.6 10.6 10.8 C10.4 6 9.6 3.6 8 2 Z" fill="#e23b9a"/></svg>
<div style="position:absolute;left:1327.8px;top:977.83px;white-space:nowrap;font-size:11.8px;line-height:15.34px;color:#1c2848;font-weight:700;">VibeStream</div>
<div style="position:absolute;left:1327.8px;top:997.08px;white-space:nowrap;font-size:10.8px;line-height:14.04px;color:#72809a;font-weight:400;">Content Distribution</div>
<div style="position:absolute;left:1559px;top:981.11px;white-space:nowrap;font-size:12.6px;line-height:16.38px;color:#1c2848;font-weight:700;transform:translateX(-100%);">1,345</div>
<div style="position:absolute;left:1522.27px;top:982.67px;white-space:nowrap;font-size:10.2px;line-height:13.26px;color:#32d484;font-weight:400;transform:translateX(-100%);">0.95%</div>
<svg style="position:absolute;left:1487.15px;top:984.9px;" width="5.2" height="8.8" viewBox="0 0 2.6 4.4"><g fill="none" stroke="#32d484" stroke-width="0.5" stroke-linecap="round" stroke-linejoin="round"><path d="M1.3 4 V0.6"/><path d="M0.3 1.6 L1.3 0.6 L2.3 1.6"/></g></svg>
<div style="position:absolute;left:1483.2px;top:1004.7px;width:76px;height:3.6px;background:#ff6757;opacity:.14;border-radius:2px;"></div>
<div style="position:absolute;left:1483.2px;top:1004.7px;width:27.6px;height:3.6px;background:#ff6757;border-radius:2px;"></div>
<div style="position:absolute;left:262.6px;top:1051.2px;width:868.4px;height:180px;background:#fff;border:1.0px solid #edf1f7;border-radius:5px;box-sizing:border-box;"></div>
<div style="position:absolute;left:280.2px;top:1073.41px;white-space:nowrap;font-size:13.53px;line-height:17.59px;color:#1c2848;font-weight:700;">Recent Invoices</div>
<div style="position:absolute;left:853.2px;top:1067px;width:84.4px;height:30px;background:#fff;border:1.0px solid #e9edf4;border-radius:4px;"></div>
<div style="position:absolute;left:871.2px;top:1075.31px;white-space:nowrap;font-size:10.6px;line-height:13.78px;color:#36425c;font-weight:400;">Filters</div>
<svg style="position:absolute;left:909.2px;top:1079.8px;" width="6.8" height="5.2" viewBox="0 0 3.4 2.6"><path d="M0.5 0.6 L1.7 1.9 L2.9 0.6" fill="none" stroke="#36425c" stroke-width="0.55" stroke-linecap="round" stroke-linejoin="round"/></svg>
<div style="position:absolute;left:944.8px;top:1067px;width:169.6px;height:30px;background:#fff;border:1.0px solid #e9edf4;border-radius:4px;"></div>
<div style="position:absolute;left:954.8px;top:1074.66px;white-space:nowrap;font-size:11.6px;line-height:15.08px;color:#8c99ae;font-weight:400;">Search Here</div>
<div style="position:absolute;left:262.6px;top:1113.7px;width:868.4px;height:1px;background:#edf1f7;"></div>
<div style="position:absolute;left:280px;top:1129.6px;width:13px;height:13px;background:#fff;border:1.0px solid #e3e8f0;border-radius:2.4px;"></div>
<div style="position:absolute;left:334px;top:1128.53px;white-space:nowrap;font-size:11.5px;line-height:14.95px;color:#27324f;font-weight:700;opacity:.92;">ID</div>
<div style="position:absolute;left:432px;top:1128.53px;white-space:nowrap;font-size:11.5px;line-height:14.95px;color:#27324f;font-weight:700;opacity:.92;">Customer</div>
<div style="position:absolute;left:663.4px;top:1128.53px;white-space:nowrap;font-size:11.5px;line-height:14.95px;color:#27324f;font-weight:700;opacity:.92;">Ordered Date</div>
<div style="position:absolute;left:786px;top:1128.53px;white-space:nowrap;font-size:11.5px;line-height:14.95px;color:#27324f;font-weight:700;opacity:.92;">Items</div>
<div style="position:absolute;left:883.8px;top:1128.53px;white-space:nowrap;font-size:11.5px;line-height:14.95px;color:#27324f;font-weight:700;opacity:.92;">Price</div>
<div style="position:absolute;left:967.6px;top:1128.53px;white-space:nowrap;font-size:11.5px;line-height:14.95px;color:#27324f;font-weight:700;opacity:.92;">Status</div>
<div style="position:absolute;left:1060px;top:1128.53px;white-space:nowrap;font-size:11.5px;line-height:14.95px;color:#27324f;font-weight:700;opacity:.92;">Actions</div>
<div style="position:absolute;left:262.6px;top:1157.3px;width:868.4px;height:1px;background:#edf1f7;"></div>
<div style="position:absolute;left:280px;top:1182px;width:13px;height:13px;background:#985ffd;border-radius:2.4px;"></div>
<svg style="position:absolute;left:282.4px;top:1184.8px;" width="8.4" height="7.6" viewBox="0 0 4.2 3.8"><path d="M0.8 2 L1.8 3 L3.5 0.9" fill="none" stroke="#fff" stroke-width="0.8" stroke-linecap="round" stroke-linejoin="round"/></svg>
<div style="position:absolute;left:334px;top:1180.99px;white-space:nowrap;font-size:11.7px;line-height:15.21px;color:#36425c;font-weight:400;">#SPK231</div>
<div style="position:absolute;left:431.6px;top:1176.4px;width:24px;height:24px;background:#985ffd;border-radius:50%;"></div>
<div style="position:absolute;left:443.6px;top:1183.66px;white-space:nowrap;font-size:7.6px;line-height:9.88px;color:#fff;font-weight:700;transform:translateX(-50%);">JS</div>
<div style="position:absolute;left:462.8px;top:1172.66px;white-space:nowrap;font-size:11.6px;line-height:15.08px;color:#1c2848;font-weight:700;">Jane Smith</div>
<div style="position:absolute;left:462.8px;top:1188.98px;white-space:nowrap;font-size:10.8px;line-height:14.04px;color:#72809a;font-weight:400;">janesmith213@gmail.com</div>
<div style="position:absolute;left:663.4px;top:1173.65px;white-space:nowrap;font-size:11px;line-height:14.3px;color:#36425c;font-weight:400;">27,Aug 2024</div>
<div style="position:absolute;left:663.4px;top:1190.3px;white-space:nowrap;font-size:10px;line-height:13px;color:#72809a;font-weight:400;">12:45PM</div>
<svg style="position:absolute;left:786px;top:1178px;" width="20.8" height="20.8" viewBox="0 0 10 10"><circle cx="5" cy="5" r="5" fill="#171923"/><path d="M1.2 3 C2.4 1.4 4 1 5.4 1.4 C3.6 2.6 3 5.4 3.8 8.4 C2 7.6 0.6 5.4 1.2 3 Z" fill="#5d6f8e"/></svg>
<svg style="position:absolute;left:800.8px;top:1178px;" width="20.8" height="20.8" viewBox="0 0 10 10"><circle cx="5" cy="5" r="5" fill="#a9cfe6"/><path d="M1 7.4 C3 6 7 6 9 7.4 C8 9.4 6.6 10 5 10 C3.4 10 2 9.4 1 7.4 Z" fill="#c2362f"/><circle cx="5" cy="4.2" r="1.8" fill="#e8eef3"/></svg>
<svg style="position:absolute;left:815.2px;top:1178px;" width="20.8" height="20.8" viewBox="0 0 10 10"><circle cx="5" cy="5" r="5" fill="#0e0f15"/><path d="M3 7.6 C4.6 8.6 7 8 8 6" fill="none" stroke="#37b34a" stroke-width="0.9"/><path d="M2.6 4 C3.4 2.6 5 2.2 6.2 2.8" fill="none" stroke="#d8382f" stroke-width="0.8"/></svg>
<div style="position:absolute;left:883.8px;top:1181.06px;white-space:nowrap;font-size:11.6px;line-height:15.08px;color:#36425c;font-weight:400;">$1,249</div>
<div style="position:absolute;left:968px;top:1181.2px;width:29.2px;height:14.8px;background:#e3f9ee;border-radius:2.4px;"></div>
<div style="position:absolute;left:982.6px;top:1183.53px;white-space:nowrap;font-size:7.8px;line-height:10.14px;color:#32d484;font-weight:700;transform:translateX(-50%);">Paid</div>
<div style="position:absolute;left:1061.2px;top:1176.8px;width:22px;height:21.2px;background:#faf9fd;border:1.0px solid #e3e7f0;border-radius:3px;"></div>
<div style="position:absolute;left:1071.2px;top:1182.6px;width:2px;height:2px;background:#3c4a63;border-radius:50%;"></div>
<div style="position:absolute;left:1071.2px;top:1186.4px;width:2px;height:2px;background:#3c4a63;border-radius:50%;"></div>
<div style="position:absolute;left:1071.2px;top:1190.2px;width:2px;height:2px;background:#3c4a63;border-radius:50%;"></div>
<div style="position:absolute;left:1152.6px;top:1051.2px;width:424.4px;height:180px;background:#fff;border:1.0px solid #edf1f7;border-radius:5px;box-sizing:border-box;"></div>
<div style="position:absolute;left:1170px;top:1072.56px;white-space:nowrap;font-size:13.6px;line-height:17.68px;color:#1c2848;font-weight:700;">Recent Transactions</div>
<div style="position:absolute;left:1529.2px;top:1067.2px;width:30px;height:29.2px;background:#faf9fd;border:1.0px solid #e3e7f0;border-radius:3.6px;"></div>
<div style="position:absolute;left:1543.2px;top:1076.6px;width:2.2px;height:2.2px;background:#3c4a63;border-radius:50%;"></div>
<div style="position:absolute;left:1543.2px;top:1080.6px;width:2.2px;height:2.2px;background:#3c4a63;border-radius:50%;"></div>
<div style="position:absolute;left:1543.2px;top:1084.6px;width:2.2px;height:2.2px;background:#3c4a63;border-radius:50%;"></div>
<div style="position:absolute;left:1152.6px;top:1110.7px;width:424.4px;height:1px;background:#edf1f7;"></div>
<div style="position:absolute;left:1170px;top:1126.46px;white-space:nowrap;font-size:11.6px;line-height:15.08px;color:#27324f;font-weight:700;opacity:.9;">Order</div>
<div style="position:absolute;left:1362px;top:1126.46px;white-space:nowrap;font-size:11.6px;line-height:15.08px;color:#27324f;font-weight:700;opacity:.9;">Price</div>
<div style="position:absolute;left:1559.2px;top:1126.46px;white-space:nowrap;font-size:11.6px;line-height:15.08px;color:#27324f;font-weight:700;transform:translateX(-100%);opacity:.9;">Products</div>
<div style="position:absolute;left:1152.6px;top:1156.7px;width:424.4px;height:1px;background:#edf1f7;"></div>
<div style="position:absolute;left:1170px;top:1171.66px;white-space:nowrap;font-size:11.6px;line-height:15.08px;color:#1c2848;font-weight:400;"><b>Order Id -</b> <span style="color:#4a586e">#SPK1234</span></div>
<div style="position:absolute;left:1170px;top:1187.78px;white-space:nowrap;font-size:10.8px;line-height:14.04px;color:#72809a;font-weight:400;">4 Items</div>
<div style="position:absolute;left:1212.5px;top:1188.8px;width:1px;height:12px;background:#e3e8f0;"></div>
<div style="position:absolute;left:1219.6px;top:1188px;width:41.6px;height:14.4px;background:#e3f9ee;border-radius:2.4px;"></div>
<svg style="position:absolute;left:1224.4px;top:1192.4px;" width="6.8" height="5.6" viewBox="0 0 3.4 2.8"><path d="M0.5 1.5 L1.3 2.3 L2.9 0.5" fill="none" stroke="#32d484" stroke-width="0.55" stroke-linecap="round" stroke-linejoin="round"/></svg>
<div style="position:absolute;left:1234.4px;top:1189.67px;white-space:nowrap;font-size:8.2px;line-height:10.66px;color:#32d484;font-weight:700;">Paid</div>
<div style="position:absolute;left:1362px;top:1171.01px;white-space:nowrap;font-size:12.6px;line-height:16.38px;color:#1c2848;font-weight:700;">$150.00</div>
<div style="position:absolute;left:1362px;top:1187.52px;white-space:nowrap;font-size:11.2px;line-height:14.56px;color:#72809a;font-weight:400;">2024-08-27</div>
<svg style="position:absolute;left:1509.6px;top:1175.2px;" width="20" height="20" viewBox="0 0 10 10"><circle cx="5" cy="5" r="5" fill="#1f6b45"/><path d="M3.4 2 C6 2.6 7.4 5 6.4 8.4 C4.4 8 2.6 5.4 3.4 2 Z" fill="#0e1a14"/><circle cx="5.4" cy="5" r="1.2" fill="#dfe7e2"/></svg>
<svg style="position:absolute;left:1523.6px;top:1175.2px;" width="20" height="20" viewBox="0 0 10 10"><circle cx="5" cy="5" r="5" fill="#14161d"/><path d="M2.4 3 C4 1.6 6.6 1.8 7.8 3.6 L6.6 7.6 C5 8.6 3.4 8 2.6 6.6 Z" fill="#c9ced8" opacity=".85"/><circle cx="5" cy="5" r="1.6" fill="#14161d"/></svg>
<div style="position:absolute;left:1538px;top:1175.2px;width:20px;height:20px;background:#985ffd;border-radius:50%;border:1px solid #fff;"></div>
<div style="position:absolute;left:1548px;top:1179.81px;white-space:nowrap;font-size:8.6px;line-height:11.18px;color:#fff;font-weight:700;transform:translateX(-50%);">+2</div>
</body></html>
